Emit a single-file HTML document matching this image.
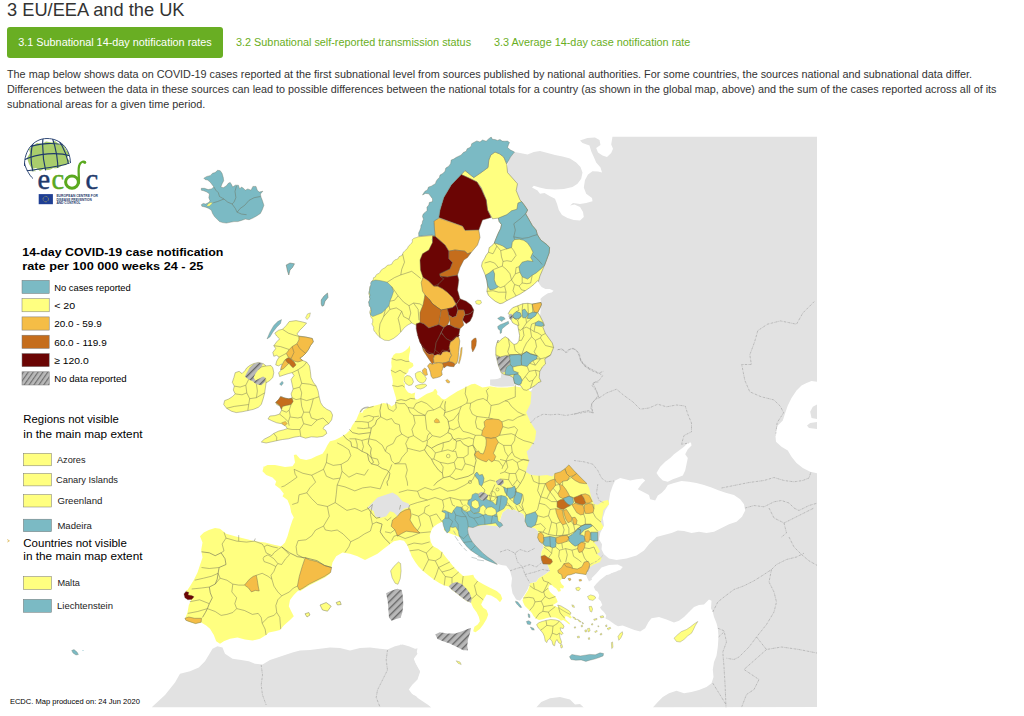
<!DOCTYPE html>
<html><head><meta charset="utf-8">
<style>
html,body{margin:0;padding:0;background:#fff;}
body{width:1024px;height:716px;overflow:hidden;position:relative;font-family:"Liberation Sans",sans-serif;color:#333;}
h2{position:absolute;left:7px;top:-1px;margin:0;font-size:18.25px;font-weight:normal;line-height:22px;color:#333;white-space:nowrap;}
.tab{position:absolute;top:27px;height:30.5px;line-height:31px;font-size:10.85px;white-space:nowrap;color:#69ae23;}
.tab.on{left:7px;width:216px;background:#69ae23;color:#fff;border-radius:3px;text-align:center;}
p{position:absolute;left:7px;top:67px;margin:0;font-size:10.82px;line-height:15px;color:#333;white-space:nowrap;}
svg{position:absolute;left:0;top:0;}
.lg{font-family:"Liberation Sans",sans-serif;}
</style></head><body>
<h2>3 EU/EEA and the UK</h2>
<div class="tab on">3.1 Subnational 14-day notification rates</div>
<div class="tab" style="left:236px">3.2 Subnational self-reported transmission status</div>
<div class="tab" style="left:494px">3.3 Average 14-day case notification rate</div>
<p>The map below shows data on COVID-19 cases reported at the first subnational level from sources published by national authorities. For some countries, the sources national and subnational data differ.<br>Differences between the data in these sources can lead to possible differences between the national totals for a country (as shown in the global map, above) and the sum of the cases reported across all of its<br>subnational areas for a given time period.</p>
<svg width="1024" height="716" viewBox="0 0 1024 716">
<!--MAP-->
<defs><pattern id="hatch" width="5" height="5" patternUnits="userSpaceOnUse" patternTransform="rotate(45)"><rect width="5" height="5" fill="#b8b8b8"/><rect width="1.35" height="5" fill="#666"/></pattern>
<clipPath id="mapclip"><rect x="0" y="136.5" width="817" height="571"/></clipPath></defs>
<g clip-path="url(#mapclip)" stroke-linejoin="round">
<g id="grey">
<polygon points="514.5,152 520,153 527.5,154.5 533.8,152 540,151 547.5,153 555,155 562.5,156.5 570,158.5 576.2,162.5 580.5,167 582.5,172.5 581.2,178.8 577.5,183.8 572.5,187 563.8,189 555,189.5 546.2,189 539.5,187.5 533.8,185.8 532,187.5 537.5,190.5 540,193.8 544.5,193 550,196.2 555,198.8 557,203.8 558.8,210 562,215 567.5,218 573.8,220 580,220.5 583.8,217 583,212 580,207 574.5,204.5 570,205.5 573,203 580,204 586.2,203 592.5,201.2 592,198 586.2,193.8 583.8,187.5 585,180 588,174.5 592.5,171.2 598,171.5 602,172.5 600.5,167.5 596.2,162.5 593.8,157 591.2,151.2 589.5,145.5 582.5,143 580,140.5 587.5,138 595,137.5 599.5,140 600.5,145 596.2,148 598,152.5 602.5,155.5 607,157 611.2,153 613,148.8 611.2,144.5 612,139.5 612.5,136.5 817,136.5 817,707 652.8,707.5 657.8,702 662.8,697 669,693.2 676.5,690.8 684,693.2 691.5,692 699,690 706.5,687 711.5,683.2 713.5,677 712.8,669.5 714,662 716.5,655.8 717.8,647 718.5,637 717.8,628.2 716.5,623.2 714,617 712.8,612 711,608.2 711.5,600.8 709,599.5 704,604.5 699,605 694,607 689,612 684,617 679,620.8 674,622.5 666.5,619.5 659,617 651.5,618.2 648.5,622 645.2,628.2 640.2,631.5 634.4,630.1 630.5,628.6 626.6,627 622.7,625.4 618,626.2 614.9,624.6 611.7,622.3 608.6,619.9 605.5,618.4 606.2,615.3 603.9,612.1 601.5,609.8 600,607.4 602.3,605.1 600.8,601.2 598.4,598.8 599.2,594.9 597.6,591.8 595.3,590.2 593.7,587.1 596.1,584 600,580 603.9,576.9 607,574.6 611.7,573 616.4,571.4 619.5,569.1 618,566 613.3,565.2 607.8,566.7 603.9,569.1 599.2,572.2 594.5,576.9 591.4,580 589,581.6 587.5,578.5 585.9,574.6 585,560 570,540 555,530 530,525 520,500 512,470 512,440 518,400 532,390 538,350 541,303 541,302.5 540.4,298.9 542.3,297 544.8,295.2 547.9,293.3 551.7,292.6 553.6,290.8 549.8,288.9 545.4,288.9 541.6,287 539.7,284.5 538.5,282.6 520,240 505,200 506,176 509,158" fill="#e2e2e2"/>
<polygon points="467.5,527.5 475,526.2 485,525 497.5,526.2 500,520 502.5,512.5 507.5,508.8 512.5,510 514.1,509.5 518.8,511.8 523.5,514.2 525,518.9 525.8,524.3 531.3,527.5 535.2,528.2 538.3,531.4 537.6,537.6 540.7,542.3 543,543.9 543.8,547 541.5,551.7 541,556.4 542.5,562 547.5,564.5 550,570.8 545,574.5 538.8,578.2 536.2,582 530,583.2 527.5,589.5 523.8,595.8 520,600.8 516.2,599.5 512.5,593.2 511.2,585.8 512,578.2 510,570.8 506.2,565.8 501.2,565 495,563 487.5,558 481.2,552.5 475,545.5 471.2,539.5 475,552.5 467.5,540 466.2,532.5" fill="#e2e2e2"/>
<polygon points="152,707 165,695 175,682.5 180,673.8 190,671.2 198.8,667.5 205,661.2 208.8,655 212.5,648.8 217.5,646.2 222.5,647.5 225,653.8 232.5,658.8 241.2,660 248.8,661.2 255,663.8 262.5,664.5 270,660 277.5,657.5 285,655 292.5,652.5 300,650.5 310,650 320,648.8 330,647.5 340,648 350,650.5 360,648 370,647.5 380,648.8 387.5,649.5 395,646.2 402.5,644.5 408.8,646.2 415,648.8 417.5,653.8 413.8,658.8 416.2,665 420,671.2 417.5,677.5 412.5,682.5 407.5,688.8 411.2,693.8 416.2,696.2 420,701.2 427.5,705 431.2,707.5 152,707.5" fill="#e2e2e2"/>
<polygon points="400,644.5 406.2,647 412.5,649.5 417.5,648.2 416.2,654.5 412.5,659.5 416.2,664.5 420,672 417.5,679.5 412.5,684.5 408.8,689.5 412.5,694.5 420,699.5 427.5,704.5 431.2,707.5 400,707.5" fill="#e2e2e2"/>
<polygon points="536.2,707.5 541.2,702 550,698.2 560,697 570,699.5 575,704.5 580,704 583.8,707.5" fill="#e2e2e2"/>
<polygon points="490.1,379.6 495.2,379.2 500.8,377.7 501.4,373 504.6,374.6 509,375.2 513.4,377.7 514.7,383.4 514,385.9 507.7,386.5 501.4,386.8 495.2,386.5 490.1,385.3" fill="#e2e2e2"/>
</g>
<g id="sea">
<polygon points="609,500.5 610.2,493 612.8,485.5 615.2,480.5 620.2,478 625.2,479.2 630.2,480.5 636.5,479.2 642.8,478.5 645.2,480.5 641.5,484.2 637.8,489.2 642.8,491.8 649,495 650.2,499.2 655.2,500.5 657.8,495.5 661.5,493 665.2,489.2 667.8,485 674,483 681.5,481 689,481.8 696.5,483 704,485 711.5,487.5 719,490.5 726.5,493 734,495 740.2,499.2 744,504.2 745.2,510.5 742,516.8 736.5,521.8 729,524.2 721.5,528 714,531.8 706.5,533 699,531.8 691.5,533 684,531 677.8,530.5 671.5,533 664,535 656.5,537 654.5,539 649,544.2 644,550.5 636.5,555.5 626.5,558.5 616.5,560 609,558.5 604,554.2 601.5,549.2 602,544.2 599,539.2 600.2,533 604,525.5 602.8,518 605.2,510.5 609,504.2" fill="#ffffff"/>
<polygon points="656.5,473 660.2,466.8 665.2,461.8 670.2,458 674,454.2 679,450.5 684,446.8 687.8,443 691,442.5 691.5,445.5 687.8,449.2 685.2,454.2 687.8,458 686.5,464.2 685.2,470.5 682.8,475.5 677.8,477.5 672.8,479.2 667.8,481.8 662.8,480.5 659,476.8" fill="#ffffff"/>
<polygon points="817.8,381.8 811.5,381 806.5,383 801.5,385.5 796.5,390.5 791.5,398 787.8,405.5 785.2,413 782.8,420.5 777.8,425.5 775.2,433 776,441.8 781.5,446.8 787.8,450.5 791.5,456.8 796.5,463 802.8,468 810.2,471.8 817.8,473.5" fill="#ffffff"/>
<polygon points="817.8,404.2 812.8,406.8 810.2,411.8 811.5,418 817.8,419.2" fill="#e2e2e2"/>
<polygon points="817.8,421.8 810.2,423 807,425.5 809,428 817.8,429.2" fill="#e2e2e2"/>
<polygon points="591.5,578.2 596.5,573.2 601.5,567.5 609,565 617.8,564.5 622.8,567 620.2,570 614,571.5 609,574.5 602.8,575.8 596.5,578.2 592.8,580.8" fill="#ffffff"/>
<polygon points="497,373.3 500.8,373 500.2,377.7 495.8,379.2" fill="#ffffff"/>
</g>
<g id="base">
<polygon points="461.2,174.5 465,170.5 473.8,177.5 481.2,172.5 488,167.5 488.8,160 490.8,155 495,152 499.5,153.8 503.8,157 506.8,164.5 507.5,172.5 517.5,183.8 516.2,190.5 520,200 521.5,201.5 524.5,205.4 527.6,210 525.6,213.8 529.2,220 532.2,225.4 536.1,230 537.3,234.6 540.7,240 546.8,244.6 549.6,247.6 549.1,253 546.8,259.2 544.5,265.3 542.2,270.7 539.9,276.1 538.4,281.4 537.6,280.7 533.8,284.5 529.9,287.6 525.3,290.7 520.7,293.7 516.1,296 511.5,298.3 506.9,300.6 503,303 500,303.7 495.4,301.4 491.5,298.3 488.4,295.3 486.9,291.4 487.7,286 486.9,280.7 485.4,275.3 483.1,269.9 481.5,266.1 482.3,262.2 484.6,258.4 486.1,255.3 488.4,252.2 489.2,247.6 491.5,246.1 494.3,243 496.1,238.4 498.4,233 500.7,228.4 501.5,224.6 499.2,221.5 498.4,218.1 492.5,218.8 487.5,210 486.2,200 481.2,187.5 477,182 468.8,178" fill="#ffff80" stroke="#6b6b55" stroke-width="0.45"/>
<polygon points="475.4,301.4 477.7,300.2 480.8,300.6 481.5,303 479.2,304.5 476.1,303.7" fill="#ffff80" stroke="#6b6b55" stroke-width="0.3"/>
<polygon points="289.2,321.6 296,320.6 302.7,322 306.6,323.1 303.7,326.4 299.8,330.2 296.9,334.1 298.9,336 305.6,337 312.3,338.5 313.3,341.8 310.4,345.7 308.5,349.5 305.6,353.4 302.7,356.3 299.8,358.2 302.7,360.5 306.6,362 309.5,365.9 310.4,371.7 311,377.5 313.3,382.3 316.2,386.1 318.1,391 319.1,396.7 320.6,402.5 323,406.4 326.8,409.3 330.7,411.2 332.6,415.1 331.6,419.9 328.7,423.7 324.9,425.7 323,428.6 325.8,430.5 326.8,433.4 323,436.3 317.2,437.2 311.4,436.8 305.6,438.2 299.8,436.3 294,437.2 288.3,438.8 282.5,439.5 276.7,440.7 270.9,442 266.1,443 261.3,442 264.2,439.2 269.9,436.3 273.8,433.4 278.6,431.1 283.4,429.9 287.3,428.6 285.4,425.7 281.5,423.7 276.7,422.8 271.9,420.8 268,418.9 269.9,416 274.8,415.6 279.6,414.1 281.5,410.2 280.5,406.4 276.7,404.5 275.7,402.5 278.6,399.6 281.5,396.7 285.4,398.3 289.2,399.1 292.1,397.7 291.1,393.9 293.1,389 292.1,384.2 291.1,379.4 294,375.5 292.1,372.7 288.3,373.6 283.4,375.2 279.6,376.5 278.6,372.7 281.5,369.8 283.4,366.9 281.5,364 278.6,365.9 275.7,364.9 276.7,361.1 279,357.2 276.7,355.3 273.8,356.3 272.8,352.4 275.7,348.6 273.8,345.7 276.7,341.8 279.6,338.9 276.7,336 274.8,333.1 278.6,330.2 282.5,329.3 286.3,325.4" fill="#ffff80" stroke="#6b6b55" stroke-width="0.4"/>
<polygon points="305.6,317.7 307.5,313.9 310.4,312.9 309.5,316.7 307.1,319.6" fill="#ffff80" stroke="#6b6b55" stroke-width="0.3"/>
<polygon points="235.2,372.7 239.1,371.3 242,373.6 244.9,370.7 246.8,367.8 249.7,365.5 253.6,363.6 258.4,362.4 263.2,363.6 266.1,365.9 270.9,365.5 272.8,367.8 273.8,372.7 272.8,377.5 269.9,380.4 266.1,382.9 265.5,387.1 264.7,392.9 263.2,398.7 261.3,404.5 258.4,407.3 253.6,409.3 247.8,410.6 242,411.8 236.2,412.6 231.4,411.2 226.6,408.3 223.7,404.5 224.6,400.6 228.5,399.1 232.3,396.7 235.2,393.9 233.3,390 234.3,386.1 232.3,382.3 233.9,377.5" fill="#ffff80" stroke="#6b6b55" stroke-width="0.4"/>
<polygon points="418.1,236.8 416.6,237.5 415,237.9 413.5,238.6 412.2,239.8 412.4,241.6 411.7,243.1 410.5,244.3 409.2,245.4 408.1,246.8 407.6,248.3 406.3,249.2 405.4,250.4 404.3,251.5 403.1,252.5 402.6,254 401.9,255.5 400.4,256.1 399,256.7 398.2,258.6 396.3,259.5 394.8,259.9 393.7,261 392.7,262.2 391.9,264.1 389.9,264.9 388,265.1 386.5,266 385.4,267.6 383.8,268.3 382.3,269.3 380.9,270.4 380.1,272 379.1,273.4 377.2,274 376,275.2 375.4,277 373.6,277.6 373.2,279.7 371.8,281.2 371.6,283.2 371.4,285.1 370,286.7 369.7,288.5 369.5,290.3 369.1,292.1 368.7,293.8 369.5,295.3 369.5,296.9 370,298.5 369.7,300.3 369.1,302.1 369.1,303.9 369.7,305.7 370.7,307.4 370.9,309.4 369.9,311.1 369.7,312.9 370.5,314.8 370.7,316.6 371.6,318 372.7,319.4 372.7,320.9 372.6,322.5 371.8,323.9 372.8,325.6 373.7,327.3 373.6,329.3 374.1,331.1 375.6,332.3 376.3,333.9 380,337.5 384.5,340.2 389,340.6 393.6,338.4 397.2,335.7 400.8,332.1 404.5,327.5 408.1,324.8 411.7,323 415.4,324.8 419,326.6 420.8,320.3 423,313.9 424.8,305.7 425.7,300.3 424.8,294.9 423.9,287.6 423,278.5 424.8,273.1 422.1,265.8 423,257.6 425.7,252.2 431.1,250.9 433.9,244.9 432.1,239.5 434.8,235.3" fill="#ffff80" stroke="#6b6b55" stroke-width="0.35"/>
<polygon points="417.6,335 459.8,335 458.6,336.8 456.3,337.3 453.4,340.3 450.4,342 449.2,346.7 450.4,352.6 446.9,351.4 442.8,352 441,355 437.5,354.4 434.6,355.5 432.2,353.8 429.3,354.4 426.4,352.6 424,349.1 422.3,347.3 419.9,342" fill="#6b0504"/>
<polygon points="404.6,377.3 407,375.5 409.9,376.1 412.3,378.4 413.5,381.9 411.7,384.9 408.8,385.5 405.8,383.7 404.1,380.8" fill="#ffff80" stroke="#6b6b55" stroke-width="0.35"/>
<polygon points="415.2,373.7 417.6,372 420.5,371.4 422.3,373.1 424.6,375.5 426.4,378.4 425.2,381.4 422.8,383.1 419.9,382.5 417.6,380.8 415.8,377.8" fill="#ffff80" stroke="#6b6b55" stroke-width="0.35"/>
<polygon points="415.2,386.1 418.1,384.9 421.7,384.3 425.2,384.1 426.9,385.5 424,387.8 420.5,389 417,388.4" fill="#ffff80" stroke="#6b6b55" stroke-width="0.35"/>
<polygon points="431.2,261.2 446.2,260 453.8,280 456.2,301.2 447.5,311.2 431.2,311.2 428,292.5" fill="#6b0504"/>
<polygon points="409.9,345.6 408.2,347.9 405.2,350.8 402.3,352.6 399.4,353.2 395.8,353.2 393.5,355 391.7,358.5 391.2,362.6 391.7,366.7 390.8,370.2 391.2,374.3 392.3,377.8 392.9,381.9 392.3,385.5 393.5,389.6 394.7,393.7 395.8,397.2 396.4,400.7 395.3,403.7 392.9,405.4 391.2,406.6 390,404.8 387,403.7 383.5,403.1 380,404.2 372.5,406.2 366.2,407.5 361.2,410 358.8,413.8 356.2,420 352.5,425 350,430 346.2,433.8 340,437.5 335,440 330,441.2 327.5,445 325,450 322.5,453.8 316.2,456.2 311.2,458.8 306.2,460 300,458.8 296.2,454.5 293.8,455 295,462.5 292.5,466.2 285,467 275,465 267.5,465 262.5,467.5 263.8,466.2 262.5,471.2 266.2,475 272.5,477.5 276.2,481.2 275,485 280,488.8 283.8,493.8 282.5,496.2 287.5,500 290,506.2 291.2,512.5 293.8,517.5 292.5,520 290,527.5 287.5,536.2 285,542.5 281.2,546.2 275,545 265,542.5 255,541.2 245,538.8 235,536.2 226.2,533.8 220,528.8 215,528 208.8,530 203.8,532.5 200,536.2 202.5,542.5 201.2,550 202.5,557.5 200,565 197.5,572.5 193.8,580 190,586.2 187.5,590 186.2,590 187.5,596.2 191.2,600 188.8,605 187.5,612.5 185,618.8 187.5,621.2 195,623.8 201.2,622.5 206.2,625.5 210,628.8 213.8,635 216.2,641.2 220,643.8 223.8,641.2 230,638.8 237.5,637.5 245,639.5 252.5,640.5 260,638.8 266.2,635 268.8,632.5 275,631.2 280,630 283.8,625.5 290,620 293.8,616.2 291.2,611.2 288.8,606.2 290,600 293.8,595 297.5,591.2 300,590 300,591.2 303.8,588.8 310,585 317.5,581.2 325,577.5 330,573.8 331.2,568.8 332.5,562.5 336.2,556.2 342.5,552.5 350,553.8 357.5,556.2 365,560 370,557.5 377.5,553.8 383.8,548.8 388.8,545 393.8,541.2 400,540 404,540.7 407.3,545.2 409.6,550.8 411.8,556.4 415.2,562 418.5,566.4 423,570.9 428.6,575.4 434.1,579.8 439.7,583.2 444.2,585.4 448.7,586.5 452,589.9 456.5,593.2 462.1,597.7 466.5,601.1 471,602.8 473.2,607.8 476.6,612.2 478.8,616.7 479.9,621.2 477.7,624.5 474.4,626.7 473.2,631.2 475.5,632.3 479.9,629 483.3,624.5 486.6,618.9 488.2,614.5 486.6,610 483.3,607.8 481.1,604.4 483.3,599.9 486.6,594.4 491.1,595.5 496.7,598.8 500,602.2 502.3,598.8 500.7,594.4 496.7,591 490,587.7 483.3,584.3 477.7,581 474.4,577.6 473.2,574.7 468.8,575.4 463.2,576 458.7,572 454.2,567.5 449.8,562 445.3,556.4 442,551.9 437.5,548.6 433,546.3 430.8,541.9 429.7,536.3 430.8,531.8 433,527.3 437.5,524 442,521.8 441.2,521.2 445,525 443.8,530 447.5,532.5 467.5,540 466.2,532.5 467.5,527.5 475,526.2 485,525 497.5,526.2 500,520 502.5,512.5 507.5,508.8 512.5,510 514.1,509.5 518.8,511.8 523.5,514.2 525,518.9 525.8,524.3 531.3,527.5 535.2,528.2 538.3,531.4 537.6,537.6 540.7,542.3 543,543.9 543.8,547 541.5,551.7 541,556.4 542.5,562 547.5,564.5 550,570.8 545,574.5 538.8,578.2 536.2,582 530,583.2 529.6,585.5 528,590.2 524.9,594.9 523.3,598 522.5,600.4 523.3,602.7 524.9,605.9 527.2,608.2 529.6,610.6 531.9,612.9 533.5,616 535.8,618.4 539,619.9 542.9,619.2 546.8,617.9 550.7,617.3 555.4,617.6 559.3,619.2 560.9,620.7 563.2,619.9 565.6,621.5 568.7,623.9 570.3,624.6 569.5,623.1 567.1,620.7 564.8,618.4 565.6,616 567.9,616.8 570.3,618.4 571.8,617.6 570.3,615.3 568.7,612.1 564.8,610.6 561.6,609 558.5,607.4 555.4,606.6 553,605.1 555.4,603.5 557.7,601.9 556.9,599.6 555.4,596.5 552.3,594.1 549.9,591.8 548.3,588.6 549.1,585.5 551.5,584.7 553.8,587.1 556.2,588.6 558.5,591.8 560.9,591 560.1,587.9 563.2,588.6 564,586.3 561.6,584 560.1,580.8 562.4,578.5 564.8,578.5 567.1,575.3 571,574.6 575.7,573 581.2,573.8 585.9,574.6 586.7,572.2 589,568.3 589.8,564.4 590,567 593.8,564.5 600,562 602.5,555.8 600.2,562.1 601.7,558 597,554.1 600.2,551.7 597.8,547 593.9,542.3 597,540.8 597.8,535.3 597.8,531.4 601.7,529.8 603.3,526.7 600.9,522 602.5,515.7 603.3,510.3 606.4,507.1 609.2,504 608,500.1 603.3,500.9 597.8,504.8 593.9,504 592.3,500.1 590.8,495.4 589.2,488.3 586.9,483.6 582.9,479.7 578.2,475 573.6,470.3 568.9,464.9 564.9,468.8 560.3,471.9 554.8,473.5 552.4,476.6 546.9,475 539.1,475.8 531.3,475 525.8,471.9 529,461 526.6,451.6 529.5,448.8 535,440 536.2,431.2 530,421.2 526.2,412.5 530.5,403.8 531.5,392.5 527,388.5 515,386.2 507.5,387.5 497.5,387.5 490,386.2 482.5,387.5 475,383.8 471.5,384.3 466.9,386.6 462.2,389 457.5,391.3 452.8,394.3 449.2,396.6 445.7,399 444,399.6 441.6,398.4 439.3,396 436.9,394.3 437.5,391.9 435.8,389 434,389.6 433.4,391.3 430.5,392.5 426.9,393.7 424,395.4 420.5,397.8 417.6,399.6 415.2,399 414.6,396 415.2,392.5 411.7,393.7 408.2,392.5 406.4,390.2 404.6,387.2 405.2,384.3 403.5,381.9 404.1,379 404.6,375.5 406.4,373.7 408.2,372 408.8,369 411.1,367.9 413.5,366.1 412.9,363.2 409.3,361.4 408.8,358.5 409.3,354.4 410.3,350.3" fill="#ffff80"/>
<polygon points="510.2,310.3 512.7,307.7 517.7,305.8 522.8,303.7 527.8,303.3 532.2,304 536.6,303.3 541,302.5 541.4,304.6 540.1,307.7 538.5,310.9 537.9,312.8 539.7,315.3 541.6,319.1 543.5,322.8 544.2,325.3 542.9,327.2 544.2,330.4 545.4,333.5 548.6,337.9 552.3,343 553.6,347.5 550.5,355.1 544.8,358.9 545.5,363.9 542.3,367 539.8,371.4 539.2,377.7 541.1,381.5 537.9,382.8 535.4,385.3 530.4,388.4 526.6,390.3 523.5,389.7 520.3,385.3 514.7,383.4 513.4,377.7 509,375.2 504.6,374.6 501.4,373 500.2,370.2 498.3,365.2 497,360.1 495.8,354.8 495.8,347.5 497,342.5 498.3,340 497.6,343 500.8,339.8 503.3,337.9 505.2,336.7 508.3,338.6 510.8,341.7 514,344.5 517.1,343.6 519,340.4 519.6,335.4 518.4,329.1 517.7,325.3 515.2,324.3 512.7,322.8 511.4,320.3 509.6,318.4 510.2,315.9 508.3,313.4" fill="#ffff80" stroke="#6b6b55" stroke-width="0.45"/>
<polygon points="320,605 326.2,602.5 331.2,606.2 327.5,611.2 322.5,610" fill="#ffff80" stroke="#6b6b55" stroke-width="0.45"/>
<polygon points="336.2,602.5 340,601.2 341.2,604.5 337.5,605" fill="#ffff80" stroke="#6b6b55" stroke-width="0.45"/>
<polygon points="305,613.8 308.8,612.5 310,615 307,617" fill="#ffff80" stroke="#6b6b55" stroke-width="0.45"/>
<polygon points="390.6,570.9 393.9,566.4 398.4,562 400.6,563.5 401.1,570.9 400.2,578.7 398,584.3 395.1,583.2 392.1,577.6" fill="#ffff80" stroke="#6b6b55" stroke-width="0.35"/>
<polygon points="456.2,660.8 460,662 461.2,664.5 458,663.2" fill="#ffff80" stroke="#6b6b55" stroke-width="0.3"/>
<polygon points="536.6,624.6 539,622.6 542.1,621.5 546,620.4 550.7,619.5 555.4,619.9 559.3,621 562.4,623.9 564,626.2 563.2,628.6 560.1,627.8 560.9,630.9 563.2,633.2 561.6,634.8 559.3,633.2 560.1,637.9 561.6,641.9 560.9,644.2 558.5,642.6 556.9,639.5 555.4,641.9 554.6,645.8 553,645 551.9,641.1 549.9,638.7 547.6,640.3 546.8,642.6 545.2,641.1 544.4,636.4 542.9,633.2 540.5,630.1 538.2,627.8" fill="#ffff80" stroke="#6b6b55" stroke-width="0.35"/>
<polygon points="557.7,605.1 560.9,605.9 564.8,608.2 568.7,610.6 571,612.9 570.3,614.5 567.1,612.9 563.2,610.6 559.3,608.2" fill="#ffff80" stroke="#6b6b55" stroke-width="0.35"/>
<polygon points="575.7,587.9 578.9,587.1 580.4,588.6 578.9,590.7 576.5,590.2" fill="#ffff80" stroke="#6b6b55" stroke-width="0.3"/>
<polygon points="587.5,596.5 590.6,594.9 594.5,596 595.8,598 592.9,600.4 589,599.6" fill="#ffff80" stroke="#6b6b55" stroke-width="0.3"/>
<polygon points="589,606.6 591.4,606.3 592.6,609 591.7,612.1 590.1,611.3" fill="#ffff80" stroke="#6b6b55" stroke-width="0.3"/>
<polygon points="600,616.3 603.1,615.7 603.9,617.3 600.8,617.9" fill="#ffff80" stroke="#6b6b55" stroke-width="0.3"/>
<polygon points="593.7,619.2 596.9,618.4 597,619.5 594.2,620.4" fill="#ffff80" stroke="#6b6b55" stroke-width="0.3"/>
<polygon points="571.8,604.8 573.8,605.4 574.5,607.4 572.6,607" fill="#ffff80" stroke="#6b6b55" stroke-width="0.3"/>
<polygon points="572.6,616.8 574.9,617.6 576.5,619.5 574.9,619.5" fill="#ffff80" stroke="#6b6b55" stroke-width="0.3"/>
<polygon points="577.3,619.2 579.6,620.4 581.2,622 579.6,622" fill="#ffff80" stroke="#6b6b55" stroke-width="0.3"/>
<polygon points="587.5,628.6 589.5,628.2 590.1,630.9 588.2,632" fill="#ffff80" stroke="#6b6b55" stroke-width="0.3"/>
<polygon points="584.8,630.1 586.4,629.8 586.7,631.7 585.1,632" fill="#ffff80" stroke="#6b6b55" stroke-width="0.3"/>
<polygon points="577.3,636.4 579.2,636.1 579.5,637.6 577.6,637.9" fill="#ffff80" stroke="#6b6b55" stroke-width="0.3"/>
<polygon points="588.2,637.9 589.5,637.6 589.8,639.2 588.6,639.5" fill="#ffff80" stroke="#6b6b55" stroke-width="0.3"/>
<polygon points="607,628.6 610.2,627.3 610.9,628.2 608.3,629.8" fill="#ffff80" stroke="#6b6b55" stroke-width="0.3"/>
<polygon points="618,636.4 620.3,633.2 622.4,631.7 622.7,634 620.8,637.9 618.8,640.3" fill="#ffff80" stroke="#6b6b55" stroke-width="0.3"/>
<polygon points="611.4,642.6 612.5,641.9 613,647.3 611.7,648.6" fill="#ffff80" stroke="#6b6b55" stroke-width="0.3"/>
<polygon points="560.4,645 562,644.5 562.6,647.3 561,648.1" fill="#ffff80" stroke="#6b6b55" stroke-width="0.3"/>
<polygon points="581.2,625.4 582.3,625.1 582.6,626.7 581.4,627" fill="#ffff80" stroke="#6b6b55" stroke-width="0.3"/>
<polygon points="594.5,631.7 596.9,630.4 597.3,631.4 595.3,632.6" fill="#ffff80" stroke="#6b6b55" stroke-width="0.3"/>
<polygon points="600,634 601.5,633.2 602,634.5 600.5,635.1" fill="#ffff80" stroke="#6b6b55" stroke-width="0.3"/>
<polygon points="605.5,625.4 606.7,624.8 607,626.4 605.8,626.7" fill="#ffff80" stroke="#6b6b55" stroke-width="0.3"/>
<polygon points="582,622.3 583.6,623.2 582.9,624.2" fill="#ffff80" stroke="#6b6b55" stroke-width="0.3"/>
<polygon points="591.4,623.9 592.6,623.5 592.9,624.8 591.7,625.1" fill="#ffff80" stroke="#6b6b55" stroke-width="0.3"/>
<polygon points="574.2,627 575.4,626.7 575.7,627.9 574.5,628.2" fill="#ffff80" stroke="#6b6b55" stroke-width="0.3"/>
<polygon points="597.6,626.2 598.6,625.7 598.9,627" fill="#ffff80" stroke="#6b6b55" stroke-width="0.3"/>
<polygon points="674,638.2 677.8,634.5 681.5,631.5 686.5,629.5 690.2,627 694,624 697.8,621.5 695.2,625.8 693.5,629.5 691.5,633.2 687.8,635.8 684,639.5 680.2,642 676.5,641.5" fill="#ffff80" stroke="#6b6b55" stroke-width="0.3"/>
</g>
<g id="fill">
<polygon points="367.5,507.5 372.5,502.5 377.5,497.5 385,495 392.5,492.5 397.5,495.5 402.5,501.2 408.8,503.8 410,507 403.8,508.8 400,512.5 397.5,516.2 393.8,512.5 390,511.2 386.2,516.2 380,518 375,516.2 373.8,511.2" fill="#e2e2e2"/>
<polygon points="461.2,174.5 468.8,178 477,182 481.2,188.8 486.2,200 487.5,210 491.2,217.5 482.5,220 478.8,230 465,230.5 462.5,226.2 438.8,217.5 440,210 443.8,197.5 451.2,185" fill="#6b0504" stroke="#6b6b55" stroke-width="0.45"/>
<polygon points="438.8,218 462.5,226.2 465,230.5 478.8,230 480,237.5 477.5,245 471.2,252.5 467.5,253.8 465,251.2 455,250 448.8,251.2 445,245 435,236.2 433.8,221.2" fill="#f5bd46" stroke="#6b6b55" stroke-width="0.45"/>
<polygon points="498.4,218.1 506.9,214.6 511.5,210.8 516.9,209.2 517.9,203.1 521.5,201.5 524.5,205.4 527.6,210 525.6,213.8 529.2,220 532.2,225.4 536.1,230 537.3,234.6 540.7,240 546.8,244.6 549.6,247.6 549.1,253 546.8,259.2 544.5,265.3 541.5,268.4 536.1,273 532.2,275.3 527.6,279.1 522.2,276.8 519.9,272.2 518.9,266.8 522.2,262.2 527.6,260.7 533,261.5 530.7,257.6 533,252.2 530.7,247.6 527.6,243 523.8,240.3 519.2,239.2 514.6,239.6 512.3,242.3 511.5,247.6 506.9,248.9 503,246.1 499.2,244.6 494.3,243 496.1,238.4 498.4,233 500.7,228.4 501.5,224.6 499.2,221.5" fill="#7bbac4" stroke="#6b6b55" stroke-width="0.45"/>
<polygon points="485.4,275.3 489.2,273 493,269.9 494.6,273.8 494.3,279.9 496.1,284.5 498.4,286.8 494.6,289.1 490,289.9 487.7,286 486.9,280.7" fill="#7bbac4" stroke="#6b6b55" stroke-width="0.45"/>
<polygon points="203.8,178.2 206.9,176.4 210.1,175.7 212.6,173.2 215.1,172.6 217.6,170.3 220.2,170.7 222,173.2 223.3,177.6 223.7,180.8 222,183.9 220.8,187 223.3,187.7 226.4,185.8 228.3,183.3 230.2,182.4 231.5,184.5 232.7,187 235.3,185.2 238.4,185.2 239.7,188.9 241.5,187 243.4,188.3 245.3,190.2 247.8,188.9 251,190.2 252.9,186.4 256,186.4 257.3,190.2 259.2,192.1 262.9,191.2 260.4,194 261,197.1 262.3,200.3 263.9,205.3 262.3,209.7 260.4,213.5 256.6,216 252.9,218.1 249.1,219.7 245.3,219.1 241.5,220.4 237.8,221.6 234,221.6 230.2,222.3 226.4,223.1 222.7,222.6 219.5,221.6 217,219.1 214.5,216.6 212.6,213.5 211.4,210.3 208.8,208.4 205.7,207.2 201.9,206.3 201.3,204.7 203.2,203.4 205.7,204 208.2,202.8 210.1,200.9 208.8,197.7 209.5,194 206.9,192.1 203.8,190.8 201.3,190.2 201.3,188.3 204.4,188.3 208.2,189.6 211.4,188.9 213.9,187 212,184.5 210.1,182 207.6,180.1 205.1,179.5" fill="#7bbac4" stroke="#6b6b55" stroke-width="0.35"/>
<polygon points="206.9,205.3 208.8,203.4 210.7,202.5 212.6,202.8 211.4,204.3 209.5,205.9 207.6,206.3" fill="#ffff80" stroke="#6b6b55" stroke-width="0.25"/>
<polygon points="286.2,265 290,263 294.5,263.8 292.5,267.5 290,270 288.8,275 287.5,271.2" fill="#7bbac4" stroke="#6b6b55" stroke-width="0.45"/>
<polygon points="321.2,300 323.8,296.2 327.5,293 328,297.5 325,301.2 323.8,305.5 322,306.2 321.2,304" fill="#7bbac4" stroke="#6b6b55" stroke-width="0.45"/>
<polygon points="418.8,236.2 418.6,233 420,230 420.8,227.8 420.9,225.5 422.2,223.5 422.5,221.2 423.5,219.2 422.5,216.5 423,214.3 425,212.5 427.1,210.4 426.9,207.2 428.8,205 429.3,202.5 432.5,201.6 432.5,198.8 430.6,196.3 428.8,193.8 425.4,193.4 422.5,195 423.7,193.1 425,191.2 427.4,189.9 428.5,187.1 431.2,186.2 433.2,184.9 435.4,183.7 436.2,181.2 437.6,179.2 439.4,177.4 440,175 442.8,173.5 445,171.2 445.8,168 448.8,166.2 450.7,163.4 451.2,160 453.8,159 456,157.5 461.2,155 463.3,152.5 466.2,151.2 467.1,148.8 469.4,147.7 471.2,146.2 471.6,143.8 473.8,142.5 476.8,140.9 480,142 482.5,140 486.2,141.2 488.6,138.9 491.2,137 492.4,139.3 495,139.5 497.5,140.4 500,139.5 502.2,141.1 505,141.2 507.5,141.1 509.5,142.5 508.4,144.9 507.5,147.5 510.5,150 514.5,152 510.5,157 506.8,163.8 503.8,157 499.5,153.8 495,152 490.8,155 488.8,160 488,167.5 481.2,172.5 473.8,177.5 465,170.5 461.2,174.5 451.2,185 443.8,197.5 440,210 438.8,218 433.8,221.2 435,236.2 432,235" fill="#7bbac4" stroke="#6b6b55" stroke-width="0.35"/>
<polygon points="298.9,336.4 305.6,337 312.3,338.5 313.3,341.8 310.4,345.7 308.5,349.5 305.6,353.4 302.7,356.3 299.8,358.2 302.7,360.5 297.9,362 294,361.1 291.1,358.6 288.3,357.2 286.3,353.4 289.2,349.5 292.1,346.6 296.9,343.7 298.9,339.9" fill="#f5bd46" stroke="#6b6b55" stroke-width="0.45"/>
<polygon points="284.4,360.5 287.3,358.2 291.1,359.2 289.2,363 286.3,365.9 283.4,368.8 280.5,369.8 281.5,365.9" fill="#f5bd46" stroke="#6b6b55" stroke-width="0.45"/>
<polygon points="285.4,359.7 288.3,357.8 291.1,359.2 294,361.7 296,364.9 293.1,367.8 291.1,365.9 289.2,363.6 287.3,362.4" fill="#c56d1c" stroke="#6b6b55" stroke-width="0.45"/>
<polygon points="275.7,402.5 278.6,399.6 280.5,396.4 283.4,397.7 288.3,398.7 292.1,398.3 293.1,401.6 291.1,404.5 286.3,405.4 282.5,406.4 281.5,409.3 279.6,405.4" fill="#c56d1c" stroke="#6b6b55" stroke-width="0.45"/>
<polygon points="281.5,422.8 285.4,421.4 287.3,423.7 284.4,425.7" fill="#f5bd46" stroke="#6b6b55" stroke-width="0.3"/>
<polygon points="279.6,384.2 282.1,381.3 283.4,382.9 281.5,385.6" fill="#7bbac4" stroke="#6b6b55" stroke-width="0.3"/>
<polygon points="267,338.9 269.9,332.2 273.8,325.4 277.7,321.6 281.5,319.6 280.5,323.5 276.7,327.3 272.8,332.2 269.9,337" fill="#7bbac4" stroke="#6b6b55" stroke-width="0.3"/>
<polygon points="244.9,376.5 246.8,372.7 249.7,367.8 253.6,364 258.4,362.4 263.2,363.6 261.3,366.9 258.4,369.8 255.5,373.6 253.6,377.5 255.5,380.4 259.3,378.4 263.2,376.5 265.5,377.9 264.7,382.3 261.3,385.2 256.4,384.2 252.6,381.3 248.7,379.4" fill="url(#hatch)"/>
<polygon points="370.5,314.8 370.6,313 371.1,311.2 370.9,309.4 370.6,307.5 369.1,305.9 369.1,303.9 368.5,302 369.5,300.3 370,298.5 369.3,297 370.1,295.2 369.6,293.7 369.1,292.1 369.6,290.4 369.8,288.5 370,286.7 370.9,285 370.6,282.9 371.8,281.2 375.4,280 380.9,280.7 387.2,282.2 391.8,286.7 393.6,291.2 391.8,296.7 389.9,301.2 389,305.7 385.4,309.4 381.8,313 377.2,314.8 372.7,316.6" fill="#7bbac4" stroke="#6b6b55" stroke-width="0.35"/>
<polygon points="448.8,258.8 448.8,251.2 455,250 465,251.2 467.5,253.8 471.2,252.5 467.5,257.5 463.8,260 460,267.5 457.5,275 447.5,277 440,276.2 439.5,273.8 450,268.8 452.5,262.5 448.8,258.8" fill="#c56d1c" stroke="#6b6b55" stroke-width="0.45"/>
<polygon points="432.5,236.2 435,236.2 445,245 448.8,251.2 448.8,258.8 452.5,262.5 450,268.8 439.5,273.8 440,276.2 443.8,278.8 438.8,283.8 433.8,286.2 428.8,281.2 423,277.5 420.5,270 420,260 422.5,253.8 428.8,250 432.5,242.5" fill="#6b0504" stroke="#6b6b55" stroke-width="0.45"/>
<polygon points="440,276.2 447.5,277 457.5,275 458.8,280 457.5,290 460,298.8 456.2,304.5 452.5,297.5 447.5,292.5 442.5,288.8 437.5,286.2 438.8,283.8 443.8,278.8" fill="#6b0504" stroke="#6b6b55" stroke-width="0.45"/>
<polygon points="423,277.5 428.8,281.2 433.8,286.2 437.5,286.2 442.5,288.8 447.5,292.5 452.5,297.5 456.2,304.5 452.5,307.5 447.5,308.8 441.2,310 437.5,307.5 432.5,303.8 428.8,298.8 425,295 422.5,291.2 421.2,282.5" fill="#f5bd46" stroke="#6b6b55" stroke-width="0.45"/>
<polygon points="425,295 428.8,298.8 432.5,303.8 437.5,307.5 441.2,310 440,317.5 438.8,324.5 433.8,326.2 428.8,328 423.8,323.8 420,322.5 420,312.5 423,305 424.5,297.5" fill="#c56d1c" stroke="#6b6b55" stroke-width="0.45"/>
<polygon points="441.2,310 447.5,308.8 448.8,315 450,320 447.5,325 443.8,327.5 438.8,324.5 440,317.5" fill="#c56d1c" stroke="#6b6b55" stroke-width="0.45"/>
<polygon points="447.5,308.8 452.5,307.5 456.2,304.5 458,310 456.2,316.2 452.5,317.5 448.8,315" fill="#6b0504" stroke="#6b6b55" stroke-width="0.45"/>
<polygon points="456.2,304.5 460,298.8 466.2,301.2 471.2,305 473.8,310 470,313.8 465,315 463.8,310 458,310" fill="#6b0504" stroke="#6b6b55" stroke-width="0.45"/>
<polygon points="465,315 470,313.8 473.8,310 472.5,316.2 470,321.2 466.2,323.8 462.5,320 463.8,316.2" fill="#6b0504" stroke="#6b6b55" stroke-width="0.45"/>
<polygon points="452.5,317.5 456.2,316.2 458,310 463.8,310 465,315 463.8,316.2 462.5,320 463.8,325 460,328.8 455,327.5 450,325 450,320 448.8,315" fill="#c56d1c" stroke="#6b6b55" stroke-width="0.45"/>
<polygon points="416.2,323.8 420,322.5 423.8,323.8 428.8,328 433.8,326.2 438.8,324.5 443.8,327.5 441.2,332.5 438.8,337.5 436.2,342.5 435,350 433.8,353.8 428.8,352.5 423.8,347.5 420,342.5 417.5,335 416.2,328.8" fill="#6b0504" stroke="#6b6b55" stroke-width="0.45"/>
<polygon points="443.8,327.5 447.5,325 450,325 455,327.5 460,328.8 458.8,335 455,337.5 451.2,341.2 446.2,338.8 441.2,332.5" fill="#6b0504" stroke="#6b6b55" stroke-width="0.45"/>
<polygon points="438.8,337.5 441.2,332.5 446.2,338.8 451.2,341.2 450,347.5 447.5,351.2 442.5,350 440,353.8 435,350 436.2,342.5" fill="#6b0504" stroke="#6b6b55" stroke-width="0.45"/>
<polygon points="422.3,347.3 424,349.1 426.4,352.6 429.3,354.4 432.2,353.8 434.6,355.5 433.4,358.5 434,362.6 432.2,364.3 430.5,361.4 428.1,357.9 425.8,354.4 423.4,350.8" fill="#c56d1c" stroke="#6b6b55" stroke-width="0.45"/>
<polygon points="434.6,355.5 437.5,354.4 441,355 442.8,352 446.9,351.4 450.4,352.6 451.6,355.5 449.8,358.5 449.2,361.4 445.7,362.6 442.2,363.2 438.7,362.6 435.2,363.2 434,362.6 433.4,358.5" fill="#f5bd46" stroke="#6b6b55" stroke-width="0.45"/>
<polygon points="442.2,363.2 445.7,362.6 449.2,361.4 453.4,362.6 455.1,364.3 453.9,366.7 450.4,366.5 446.9,365.8 444,367.9 442.8,366.1" fill="#c56d1c" stroke="#6b6b55" stroke-width="0.45"/>
<polygon points="450.4,352.6 449.2,346.7 450.4,342 453.4,340.3 456.3,337.3 458.6,336.8 459.8,340.9 459.2,346.7 458.6,352.6 458.1,358.5 456.9,363.2 455.1,364.3 453.4,362.6 449.2,361.4 449.8,358.5 451.6,355.5" fill="#f5bd46" stroke="#6b6b55" stroke-width="0.45"/>
<polygon points="427.5,366.1 429.9,363.2 432.2,364.3 435.2,363.2 438.7,362.6 442.2,363.2 443.4,365.5 442.8,368.5 441.6,371.4 442.2,374.9 439.9,376.7 436.3,377.8 432.8,378.4 431.1,376.1 430.5,372.6 429.3,369" fill="#f5bd46" stroke="#6b6b55" stroke-width="0.45"/>
<polygon points="461,347.9 462.2,347.3 461.9,352.6 460.8,358.5 459.2,363.8 458.4,363.2 459.6,357.3 460.4,352.6" fill="#f5bd46" stroke="#6b6b55" stroke-width="0.3"/>
<polygon points="471.5,340.9 473.9,338.5 476,337.9 476.5,340.9 476,345.6 474.5,349.1 472.7,352 471.5,347.9" fill="#c56d1c" stroke="#6b6b55" stroke-width="0.3"/>
<polygon points="445.7,380.2 447.5,379.4 449.8,381.4 449.2,383.1 446.9,382.5" fill="#f5bd46" stroke="#6b6b55" stroke-width="0.3"/>
<polygon points="422.3,370.2 424.6,368.1 426.4,369 426.9,372 427.5,374.9 425.2,375.5 422.8,373.1" fill="#f5bd46" stroke="#6b6b55" stroke-width="0.35"/>
<polygon points="532.2,304.2 536.6,303.3 541,302.5 541.4,304.6 540.1,307.7 538.5,310.9 537.2,312.8 534.1,312.1 533.1,308.4" fill="#f5bd46" stroke="#6b6b55" stroke-width="0.45"/>
<polygon points="513.3,314 516.5,311.5 520.3,312.8 521.5,315.9 519,318.4 515.2,319.1 513,317.2" fill="#7bbac4" stroke="#6b6b55" stroke-width="0.45"/>
<polygon points="522.1,310.3 524.7,309 526.5,311.5 528.4,314 525.9,317.8 522.8,317.8 522.1,314" fill="#7bbac4" stroke="#6b6b55" stroke-width="0.45"/>
<polygon points="528.4,314 532.8,312.1 537.2,312.8 535.3,315.9 531.6,318.4 527.2,318.4" fill="#7bbac4" stroke="#6b6b55" stroke-width="0.45"/>
<polygon points="535.3,322.8 538.5,320.9 542.3,322.2 544.2,325.3 541.6,326.4 537.9,326 535.1,325.3" fill="#7bbac4" stroke="#6b6b55" stroke-width="0.45"/>
<polygon points="497.6,318.4 500.8,316.5 503.9,317.2 505.2,319.1 502.6,320.3 502,321.6 500.1,320.3" fill="#7bbac4" stroke="#6b6b55" stroke-width="0.3"/>
<polygon points="497.6,326.6 500.1,324.7 503.3,323.5 506.4,322.2 508.3,321.3 508.9,323.5 506.4,325.3 503.9,327.2 502,329.1 501.4,332.9 500.1,333.5 500.1,330.4 498.2,329.1" fill="#7bbac4" stroke="#6b6b55" stroke-width="0.3"/>
<polygon points="508.3,315.9 510.8,313.4 512.5,314.7 513,317.5 511.4,320.3 509.9,318.4" fill="url(#hatch)"/>
<polygon points="496.4,355.7 500.2,357 505.2,355.7 509,355.7 510.3,361.4 509.6,364.5 506.5,367 505.2,371.4 502.7,373 500.8,371.4 498.9,367 497.4,362" fill="url(#hatch)"/>
<polygon points="509,355.7 510.3,354.8 517.8,354.5 521.6,355.1 521.3,360.8 521.6,365.2 517.8,365.8 512.8,367 510,364.5 510.3,361.4" fill="#7bbac4" stroke="#6b6b55" stroke-width="0.45"/>
<polygon points="521.6,355.1 522.8,353.8 526.6,351.6 530.4,353.8 537.3,355.7 536.7,358.9 532.9,360.8 529.7,363.3 527.2,366.4 524.1,365.8 521.6,365.2 521.3,360.8" fill="#7bbac4" stroke="#6b6b55" stroke-width="0.45"/>
<polygon points="506.5,367 510,364.5 512.8,367 513.4,370.8 518.4,372.7 517.8,374 514,374.6 509,375.2 505.2,374.6 505.2,371.4" fill="#7bbac4" stroke="#6b6b55" stroke-width="0.45"/>
<polygon points="514,374.6 517.8,374 520.3,376.5 522.2,380.3 520.9,384 518.4,385 514.7,383.4 513.4,377.7" fill="#7bbac4" stroke="#6b6b55" stroke-width="0.45"/>
<polygon points="392.5,520 397.5,516.2 400.5,512.5 405,510 410,508.8 411.2,515 410,520 413.8,526.2 417.5,530.5 420,533 412.5,532 406.2,531.2 401.2,533.8 397.5,536.2 395,530 391.2,526.2" fill="#f5bd46" stroke="#6b6b55" stroke-width="0.45"/>
<polygon points="386.1,593.2 390.6,591 397.3,588.8 401.8,589.9 402.9,596.6 403.3,604.4 402.4,612.2 400.6,617.8 396.2,618.9 391.7,620.7 389,617.8 388.4,610 387.7,601.1" fill="url(#hatch)"/>
<polygon points="305.2,557.7 309.1,559.7 316.9,561.6 324.7,565.5 331.6,567.5 330.6,572.4 324.7,576.3 316.9,580.2 309.1,584.1 303.2,588 299.3,590 297.4,586.1 299.3,576.3 302.2,566.5" fill="#f5bd46" stroke="#6b6b55" stroke-width="0.45"/>
<polygon points="244.5,585.1 249.4,579.2 253.3,576.3 256.3,575.3 257.3,580.2 258.2,586.1 259.2,591 255.3,590.4 251.4,591.9 248.5,588" fill="#f5bd46" stroke="#6b6b55" stroke-width="0.45"/>
<polygon points="183.9,593.9 185.9,591.5 188.8,592.3 188.2,594.9 191.7,595.5 194.1,596.8 191.7,599.4 187.8,599.8 184.9,597.8" fill="#6b0504" stroke="#6b6b55" stroke-width="0.3"/>
<polygon points="184.9,618.3 188.8,617 194.7,618.3 201.5,618.3 201.1,622.2 195.6,623.6 189.8,621.7 185.9,620.3" fill="#f5bd46" stroke="#6b6b55" stroke-width="0.45"/>
<polygon points="441.7,511.2 444.9,510.4 448,511.9 451.9,513.5 453.5,510.4 456.6,506.5 461.3,507.3 463.6,510.4 466.8,511.9 470.7,510.4 473.8,513.5 478.5,512.7 483.2,515.1 487.9,513.5 492.6,515.1 497.3,516.6 498.1,521.3 501.2,522.9 502.8,525.3 499.6,527.6 497.3,525.3 495.7,522.9 491,523.7 484.8,524.5 478.5,525.3 473,527.6 468.3,526.8 467.6,529.2 468.3,533.9 469.9,537.8 472.3,541.7 475.4,545.6 479.3,549.5 483.2,553.4 487.9,557.3 492.6,560.5 497.3,564.4 491,562 485.6,559.7 480.1,556.5 475.4,553.4 470.7,550.3 466.8,546.4 463.6,542.5 461.3,539.3 459,535.4 458.2,530.7 455.8,526.8 452.7,527.6 450.3,526.8 449.6,530.7 447.2,533.1 444.9,529.9 443.3,525.3 442.5,520.6 444.9,518.2 445.6,513.5" fill="#7bbac4" stroke="#6b6b55" stroke-width="0.35"/>
<polygon points="471.5,498.6 472.3,494.7 475.4,493.2 478.5,494 479.3,497.9 481.6,500.2 484.8,498.6 488.7,500.2 492.6,501.8 495.7,504.9 496.5,501 497.3,496.3 501.2,495.5 505.1,496.3 507.5,498.6 506.7,504.1 503.6,508.8 498.9,511.2 496.5,512.7 497.3,516.6 492.6,515.1 487.9,513.5 485.6,507.3 483.2,504.9 480.1,507.3 479.3,511.9 473.8,513.5 470.7,510.4 469.9,506.5 467.6,504.1 468.3,500.2" fill="#7bbac4" stroke="#6b6b55" stroke-width="0.35"/>
<polygon points="471.5,501.8 475.4,499.7 478.5,501.8 479.3,506.5 476.9,508.8 473.8,508 471.5,505.7" fill="#ffff80" stroke="#6b6b55" stroke-width="0.35"/>
<polygon points="484.8,510.4 487.9,507.3 491.8,506.9 495.7,509.6 496.5,513.5 492.6,515.9 487.9,515.4 484.8,513.5" fill="#ffff80" stroke="#6b6b55" stroke-width="0.35"/>
<polygon points="462.1,506.5 465.2,504.9 468.3,507.3 466.8,510.4 463.6,510.4" fill="#ffff80" stroke="#6b6b55" stroke-width="0.35"/>
<polygon points="489.5,495.5 491.8,490.8 494.9,492.4 496.5,497.1 493.4,501 490.3,500.2" fill="#ffff80" stroke="#6b6b55" stroke-width="0.35"/>
<polygon points="503.6,486.9 506.7,488.5 511.4,487.7 514.5,486.1 516.1,490 515.3,494.7 512.9,497.9 509.8,498.6 507.5,495.5 505.1,492.4" fill="#7bbac4" stroke="#6b6b55" stroke-width="0.45"/>
<polygon points="515.3,491.6 518.4,492.4 522.3,494 521.5,498.6 520,503.3 516.9,504.9 513.7,502.6 513.7,498.6 515.3,494.7" fill="#7bbac4" stroke="#6b6b55" stroke-width="0.45"/>
<polygon points="478.5,493.2 481.6,491.9 485.6,493.2 488.2,495.5 487.1,498.6 484,500.7 480.9,499.4 478.8,496.3" fill="url(#hatch)"/>
<polygon points="495.7,481.4 499.6,478.8 503.2,479.9 503.9,483 501.2,485.3 497.6,485" fill="url(#hatch)"/>
<polygon points="448.7,586.5 452,583.2 456.5,582.1 462.1,584.3 466.5,588.8 469.9,593.2 471.7,598.8 471,602.8 466.5,601.1 462.1,597.7 456.5,593.2 452,589.9" fill="url(#hatch)"/>
<polygon points="435.3,634.6 439.7,632.3 447.5,633.4 455.4,633.4 462.1,631.2 467.7,629 471,627.9 469.9,633.4 468.1,639 467.2,645.7 468.1,650.2 463.2,650.2 456.5,646.8 449.8,643.5 443.1,641.3 437.5,639" fill="url(#hatch)"/>
<polygon points="557.7,570.6 561.6,567.5 564,563.6 568.7,562.8 571.8,565.2 572.6,568.3 577.3,569.1 582,566.7 584.3,562 588.2,561.3 589.8,564.4 589,568.3 586.7,572.2 585.9,574.6 581.2,573.8 575.7,573 571,574.6 567.1,575.3 564.8,578.5 562.4,578.5 561.6,574.6 558.5,573" fill="#f5bd46" stroke="#6b6b55" stroke-width="0.45"/>
<polygon points="569.5,656.7 571.8,654.4 575.7,655.2 580.4,655.9 585.1,655.2 589.8,654.4 595.3,654.8 600,652.8 603.6,653.6 603.1,655.9 599.2,657.5 594.5,659.1 589.8,660.2 585.9,661.4 581.2,659.9 575.7,660.2 571,659.5" fill="#7bbac4" stroke="#6b6b55" stroke-width="0.3"/>
<polygon points="515.5,601.2 517.8,601.9 520.2,605.1 521.7,607.4 520.2,607.4 517.8,605.1 515.9,602.7" fill="#7bbac4" stroke="#6b6b55" stroke-width="0.3"/>
<polygon points="528,613.7 529.6,614.5 530,617.6 528.5,617.3" fill="#7bbac4" stroke="#6b6b55" stroke-width="0.3"/>
<polygon points="526.4,621.5 528.8,620.7 531.1,622.3 530.3,624.6 527.5,624.2" fill="#7bbac4" stroke="#6b6b55" stroke-width="0.3"/>
<polygon points="530.3,627 533.5,628.2 534.3,630.1 531.9,629.8" fill="#7bbac4" stroke="#6b6b55" stroke-width="0.3"/>
<polygon points="567.9,578.5 570.3,578.2 571,580 569.2,580.8" fill="#f5bd46" stroke="#6b6b55" stroke-width="0.3"/>
<polygon points="578.9,579.7 581.2,579.3 581.7,580.8 579.6,581.3" fill="#f5bd46" stroke="#6b6b55" stroke-width="0.3"/>
<polygon points="564.9,468.8 568.9,464.9 573.6,470.3 576.7,473.5 573.6,475.8 569.6,476.6 566.5,473.5" fill="#f5bd46" stroke="#6b6b55" stroke-width="0.45"/>
<polygon points="554.8,473.5 560.3,471.9 564.9,468.8 566.5,473.5 569.6,476.6 567.3,480.5 562.6,481.3 559.5,484.4 556.3,482.1 554.5,478.2" fill="#f5bd46" stroke="#6b6b55" stroke-width="0.45"/>
<polygon points="571.2,477.4 573.6,475.8 576.7,473.5 582.9,479.7 586.9,483.6 584.5,483.6 579.8,482.9 575.1,480.5" fill="#f5bd46" stroke="#6b6b55" stroke-width="0.45"/>
<polygon points="545.4,483.6 550.1,480.5 554.8,479 555.6,485.2 553.2,488.3 550.1,491.9 547.7,489.1" fill="#f5bd46" stroke="#6b6b55" stroke-width="0.45"/>
<polygon points="559.5,484.4 562.6,485.2 565.7,489.1 568.1,493 569.6,496.2 565.7,497.7 562.6,498.5 559.5,496.9 557.9,493.8 560.3,489.1" fill="#f5bd46" stroke="#6b6b55" stroke-width="0.45"/>
<polygon points="563.4,498.5 568.9,496.2 572.8,497.7 573.6,502.4 571.2,505.1 568.1,504.5 564.9,501.6" fill="#7bbac4" stroke="#6b6b55" stroke-width="0.45"/>
<polygon points="557.1,501.6 560.3,499.8 563.4,499.3 564.9,501.6 568.1,504.5 570.4,505.6 567.3,507.1 563.4,509.5 560.3,508.7 557.1,507.1" fill="#c56d1c" stroke="#6b6b55" stroke-width="0.45"/>
<polygon points="573.6,497.7 577.5,496.2 581.4,494.6 583.7,497.7 585.8,503.2 582.9,504.8 579,504 575.1,502.4" fill="#c56d1c" stroke="#6b6b55" stroke-width="0.45"/>
<polygon points="581.4,494.6 585.3,493.8 589.2,495.4 592.3,501.6 588.4,503.2 585.8,503.2 583.7,497.7" fill="#f5bd46" stroke="#6b6b55" stroke-width="0.45"/>
<polygon points="572,504.8 575.1,503.2 579,504.5 582.9,505.1 584.5,509.5 583.7,514.2 580.6,514.9 576.7,512.6 574.3,508.7" fill="#f5bd46" stroke="#6b6b55" stroke-width="0.45"/>
<polygon points="584.5,504.8 588.4,503.5 592.3,504 593.9,508.7 593.1,512.6 589.2,513.4 585.3,513.4 584.2,509.5" fill="#f5bd46" stroke="#6b6b55" stroke-width="0.45"/>
<polygon points="555.6,508.7 560.3,509.2 562.6,510.3 563.4,515.7 564.9,520.4 566.5,523.6 562.6,524.8 560.3,522 557.9,517.3 556.3,512.6" fill="#f5bd46" stroke="#6b6b55" stroke-width="0.45"/>
<polygon points="563.4,510.3 566.5,509.5 569.6,514.2 572,518.1 571.2,521.2 568.1,522.8 565.7,518.9 564.2,514.2" fill="#f5bd46" stroke="#6b6b55" stroke-width="0.45"/>
<polygon points="572.3,517.6 575.1,517.3 577,520.4 576.4,524.3 573.9,524.8 572.8,521.2" fill="#f5bd46" stroke="#6b6b55" stroke-width="0.45"/>
<polygon points="525.8,514.9 530.5,513.4 535.2,511.8 537.6,515.7 536.8,520.4 535.2,525.1 531.3,527.5 527.4,526.4 525,521.2" fill="#7bbac4" stroke="#6b6b55" stroke-width="0.45"/>
<polygon points="577.5,529 581.4,525.9 585.3,524.3 590.8,524.3 592.3,525.9 588.4,528.2 584.5,529.8 581.4,532.9 579.8,534.5 580.6,529.8" fill="#7bbac4" stroke="#6b6b55" stroke-width="0.45"/>
<polygon points="568.1,536.9 572,534.5 575.1,531.4 577.5,529 580.6,529.8 579.8,534.5 582.9,535.3 585.3,537.6 584.5,541.5 581.4,542.3 579,544.7 575.1,546.2 572,543.9 568.9,540.8" fill="#7bbac4" stroke="#6b6b55" stroke-width="0.45"/>
<polygon points="585.3,531.4 588.4,530.6 590.5,532.9 590,539.2 588.4,542.3 585.8,542 584.5,537.6" fill="#f5bd46" stroke="#6b6b55" stroke-width="0.45"/>
<polygon points="590.8,532.2 597.8,532.2 597.8,540.8 593.9,541.1 590.8,540" fill="#7bbac4" stroke="#6b6b55" stroke-width="0.45"/>
<polygon points="538.3,533.7 541,532.2 543.5,535.3 544.1,540 542.3,543.6 539.4,541.5 537.6,537.6" fill="#f5bd46" stroke="#6b6b55" stroke-width="0.45"/>
<polygon points="543.5,537.6 546.9,536.9 550.1,536.4 555.6,537.6 556.3,542.3 555.6,547 552.4,547.8 549.3,546.2 545.4,546.2 543,543.9 544.1,540" fill="#7bbac4" stroke="#6b6b55" stroke-width="0.45"/>
<polygon points="556.3,537.6 561.8,535.8 567.3,535.3 568.9,538.4 566.5,541.5 561.8,543.1 557.9,543.9 556,541.5" fill="#f5bd46" stroke="#6b6b55" stroke-width="0.45"/>
<polygon points="578.2,544.7 581.4,542.3 585.3,543.1 584.5,547.8 582.2,551.7 579,552.5 577.5,548.6" fill="#f5bd46" stroke="#6b6b55" stroke-width="0.45"/>
<polygon points="541,556.4 544.6,555.2 548.5,558 551.6,559.5 552.4,562.1 550.1,564.2 543,563.9 541.6,560.3" fill="#c56d1c" stroke="#6b6b55" stroke-width="0.45"/>
<polygon points="434.3,420.8 436.2,418.5 438.5,419.7 439.8,422.4 437,422.9 434.6,422.4" fill="#f5bd46" stroke="#6b6b55" stroke-width="0.3"/>
<polygon points="484,421.9 486.3,419.6 492.6,418.8 498.9,419.6 502,421.9 502.8,426.6 501.2,430.6 499.6,435.3 495.7,437.6 491,438.4 485.6,437.3 481.6,435.3 482.4,430.6 484.8,426.6" fill="#f5bd46" stroke="#6b6b55" stroke-width="0.45"/>
<polygon points="485.6,437.6 491,438.4 495.7,437.6 498.5,442.3 496.5,445.4 494.9,450.1 493.4,453.2 495.7,456.4 494.2,460.3 491.8,461.9 488.7,459.5 486.3,461.9 481.6,460.3 476.9,457.9 474.6,454.8 476.2,451.7 478.5,450.9 480.1,453.2 483.2,454 484.8,450.1 486,445.4 486.3,440.7" fill="#f5bd46" stroke="#6b6b55" stroke-width="0.45"/>
<polygon points="474.6,474.4 476.9,472 479.3,475.2 482.4,474.4 484,478.3 483.2,483 481.6,486.1 479.3,484.5 478.5,479.9 476.2,477.5" fill="#7bbac4" stroke="#6b6b55" stroke-width="0.45"/>
<polygon points="360,412.2 361.6,409.1 365,407.4 368.5,406.8 366.9,408.5 363.8,409.9 362.2,412.9" fill="#ffffff"/>
</g>
<g id="line">
<polyline points="261.2,665 262.5,675 261.2,685 262.5,695 266.2,705" fill="none" stroke="#909090" stroke-width="0.5" stroke-dasharray="2.2,0.8,0.6,0.8"/>
<polyline points="387.5,650 386.2,660 387.5,670 382.5,680 377.5,690 376.2,697.5 380,707" fill="none" stroke="#909090" stroke-width="0.5" stroke-dasharray="2.2,0.8,0.6,0.8"/>
<polyline points="525.6,213.8 520.7,218.4 513.8,223.8 515.3,230 513.8,236.9 514.6,239.6" fill="none" stroke="#6b6b55" stroke-width="0.45"/>
<polyline points="513.8,236.9 522.2,238.4 528.4,237.6 532.2,236.1 537.3,234.6" fill="none" stroke="#6b6b55" stroke-width="0.45"/>
<polyline points="533,255.3 537.6,259.2 542.2,264.5" fill="none" stroke="#6b6b55" stroke-width="0.45"/>
<polyline points="494.3,243 496.9,246.1 500.7,250.7 505.3,249.2 506.9,248.9" fill="none" stroke="#6b6b55" stroke-width="0.45"/>
<polyline points="500.7,250.7 501.5,256.9 503,261.5 502.3,266.1 498.4,267.6 494.6,269.1 493,269.9" fill="none" stroke="#6b6b55" stroke-width="0.45"/>
<polyline points="488.4,252.2 493,253.8 494.6,250.7 496.9,246.1" fill="none" stroke="#6b6b55" stroke-width="0.45"/>
<polyline points="484.6,263 490,261.5 494.6,263 498.4,267.6" fill="none" stroke="#6b6b55" stroke-width="0.45"/>
<polyline points="503,261.5 506.9,260.7 511.5,261.5 516.1,255.3" fill="none" stroke="#6b6b55" stroke-width="0.45"/>
<polyline points="502.3,266.1 506.1,269.1 510,273.8 511.5,279.9 508.4,282.2 504.6,286 500.7,287.6 498.4,286.8" fill="none" stroke="#6b6b55" stroke-width="0.45"/>
<polyline points="511.5,279.9 515.3,273.8 516.1,267.6 518.9,266.8" fill="none" stroke="#6b6b55" stroke-width="0.45"/>
<polyline points="515.3,273.8 519.9,272.2" fill="none" stroke="#6b6b55" stroke-width="0.45"/>
<polyline points="511.5,279.9 514.6,284.5 519.2,286 522.2,283 522.2,276.8" fill="none" stroke="#6b6b55" stroke-width="0.45"/>
<polyline points="522.2,283 526.9,283.7 530.7,283 532.2,275.3" fill="none" stroke="#6b6b55" stroke-width="0.45"/>
<polyline points="504.6,286 506.1,292.2 505.3,298.3 506.9,300.6" fill="none" stroke="#6b6b55" stroke-width="0.45"/>
<polyline points="514.6,284.5 513,290.7 516.1,296" fill="none" stroke="#6b6b55" stroke-width="0.45"/>
<polyline points="519.2,286 521.5,289.9 525.3,290.7" fill="none" stroke="#6b6b55" stroke-width="0.45"/>
<polyline points="486.9,291.4 493,290.7 498.4,292.2 506.1,292.2" fill="none" stroke="#6b6b55" stroke-width="0.45"/>
<polyline points="516.1,255.3 513.8,250.7 511.5,247.6" fill="none" stroke="#6b6b55" stroke-width="0.45"/>
<polyline points="218.3,192.7 219.5,196.5 223.9,199 227.7,202.1 232.1,204 235.3,208.4 237.1,212.2 241.5,214.1 246.6,214.7" fill="none" stroke="#6b6b55" stroke-width="0.45"/>
<polyline points="223.9,199 217.6,201.5 213.2,202.8" fill="none" stroke="#6b6b55" stroke-width="0.45"/>
<polyline points="236.5,185.8 235,191.4 235.9,197.7 234,202.1 232.1,204" fill="none" stroke="#6b6b55" stroke-width="0.45"/>
<polyline points="237.1,212.2 240.3,208.4 244.7,205.3 249.1,200.3 254.1,197.7 260.4,196.5" fill="none" stroke="#6b6b55" stroke-width="0.45"/>
<polyline points="213.9,187 215.8,190.2 218.3,192.7" fill="none" stroke="#6b6b55" stroke-width="0.45"/>
<polyline points="292.1,372.7 297.9,369.8 303.7,365.9 306.6,362" fill="none" stroke="#6b6b55" stroke-width="0.45"/>
<polyline points="282.5,329.3 288.3,333.1 294,335.1 298.9,336.4" fill="none" stroke="#6b6b55" stroke-width="0.45"/>
<polyline points="273.8,345.7 280.5,346.6 289.2,349.5" fill="none" stroke="#6b6b55" stroke-width="0.45"/>
<polyline points="279,357.2 286.3,353.4" fill="none" stroke="#6b6b55" stroke-width="0.45"/>
<polyline points="297.9,369.8 299.8,376.5 301.7,383.3 299.8,387.1 293.1,389" fill="none" stroke="#6b6b55" stroke-width="0.45"/>
<polyline points="301.7,383.3 309.5,384.2 316.2,386.1" fill="none" stroke="#6b6b55" stroke-width="0.45"/>
<polyline points="299.8,387.1 301.7,392.9 300.8,398.7 306.6,400.6 313.3,398.7 319.1,396.7" fill="none" stroke="#6b6b55" stroke-width="0.45"/>
<polyline points="292.1,397.7 296,399.6 300.8,398.7" fill="none" stroke="#6b6b55" stroke-width="0.45"/>
<polyline points="291.1,404.5 289.2,410.2 290.2,416 288.3,421.8 289.2,425.7" fill="none" stroke="#6b6b55" stroke-width="0.45"/>
<polyline points="300.8,398.7 301.7,406.4 303.7,412.2 301.7,417 297.9,418 290.2,417" fill="none" stroke="#6b6b55" stroke-width="0.45"/>
<polyline points="313.3,398.7 311.4,406.4 309.5,412.2 303.7,412.2" fill="none" stroke="#6b6b55" stroke-width="0.45"/>
<polyline points="309.5,412.2 311.4,418 317.2,419.9 323,418 328.7,423.7" fill="none" stroke="#6b6b55" stroke-width="0.45"/>
<polyline points="301.7,417 303.7,423.7 299.8,429.5 300.8,436.3" fill="none" stroke="#6b6b55" stroke-width="0.45"/>
<polyline points="303.7,423.7 311.4,425.7 317.2,419.9" fill="none" stroke="#6b6b55" stroke-width="0.45"/>
<polyline points="292.1,346.6 294,352.4 291.1,358.6" fill="none" stroke="#6b6b55" stroke-width="0.45"/>
<polyline points="296.9,343.7 299.8,348.6 305.6,353.4" fill="none" stroke="#6b6b55" stroke-width="0.45"/>
<polyline points="281.5,410.2 286.3,412.2 289.2,410.2" fill="none" stroke="#6b6b55" stroke-width="0.45"/>
<polyline points="279.6,414.1 284.4,418 288.3,421.8" fill="none" stroke="#6b6b55" stroke-width="0.45"/>
<polyline points="287.3,428.6 292.1,429.5 299.8,429.5" fill="none" stroke="#6b6b55" stroke-width="0.45"/>
<polyline points="273.8,433.4 276.7,437.2 276.7,440.7" fill="none" stroke="#6b6b55" stroke-width="0.45"/>
<polyline points="234.3,386.1 240.1,387.1 245.8,385.2 248.7,379.4" fill="none" stroke="#6b6b55" stroke-width="0.45"/>
<polyline points="245.8,385.2 246.8,392.9 249.7,398.7 248.7,404.5 247.8,410.6" fill="none" stroke="#6b6b55" stroke-width="0.45"/>
<polyline points="249.7,398.7 256.4,397.7 261.3,394.8 264.7,392.9" fill="none" stroke="#6b6b55" stroke-width="0.45"/>
<polyline points="256.4,384.2 257.4,391 256.4,397.7" fill="none" stroke="#6b6b55" stroke-width="0.45"/>
<polyline points="235.2,393.9 242,394.8 246.8,392.9" fill="none" stroke="#6b6b55" stroke-width="0.45"/>
<polyline points="226.6,408.3 234.3,406.4 242,405.4 248.7,404.5" fill="none" stroke="#6b6b55" stroke-width="0.45"/>
<polyline points="258.4,369.8 261.3,366.9 266.1,365.9" fill="none" stroke="#6b6b55" stroke-width="0.45"/>
<polyline points="265.5,377.9 266.1,382.9" fill="none" stroke="#6b6b55" stroke-width="0.45"/>
<polyline points="402.6,254 404.5,262.2 401.7,269.4 400.8,274.9 406.3,273.1 411.7,271.3 416.3,274.9 420.8,278.5" fill="none" stroke="#6b6b55" stroke-width="0.45"/>
<polyline points="387.2,282.2 394.5,277.6 400.8,274.9" fill="none" stroke="#6b6b55" stroke-width="0.45"/>
<polyline points="391.8,286.7 398.1,295.8 403.6,302.1 409,305.7 413.5,303 419.9,303.9 422.6,305.7" fill="none" stroke="#6b6b55" stroke-width="0.45"/>
<polyline points="398.1,295.8 394.5,300.3 389.9,301.2" fill="none" stroke="#6b6b55" stroke-width="0.45"/>
<polyline points="389.9,309.4 396.3,307.9 401.7,311.2 403.6,316.6 409,319.4 411.7,323" fill="none" stroke="#6b6b55" stroke-width="0.45"/>
<polyline points="385.4,309.4 383.6,316.6 380,323.9 379.1,331.2 380,337.5" fill="none" stroke="#6b6b55" stroke-width="0.45"/>
<polyline points="401.7,311.2 398.1,318.4 399.9,325.7 400.8,332.1" fill="none" stroke="#6b6b55" stroke-width="0.45"/>
<polyline points="383.6,316.6 389.9,309.4" fill="none" stroke="#6b6b55" stroke-width="0.45"/>
<polyline points="409,305.7 410.8,313 409,319.4" fill="none" stroke="#6b6b55" stroke-width="0.45"/>
<polyline points="413.5,303 418.1,309.4 419,320.3" fill="none" stroke="#6b6b55" stroke-width="0.45"/>
<polyline points="389,305.7 389.9,309.4" fill="none" stroke="#6b6b55" stroke-width="0.45"/>
<polyline points="391.7,358.5 396.4,360.2 401.1,359.6 405.8,361.4 409.3,361.4" fill="none" stroke="#6b6b55" stroke-width="0.45"/>
<polyline points="390.8,370.2 395.3,372.6 400,370.2 403.5,372.6 406.4,373.7" fill="none" stroke="#6b6b55" stroke-width="0.45"/>
<polyline points="392.3,385.5 397.6,386.6 402.3,385.5 404.6,387.2" fill="none" stroke="#6b6b55" stroke-width="0.45"/>
<polyline points="396.4,400.7 401.1,399.6 405.8,400.7 410.5,398.4 415.2,399" fill="none" stroke="#6b6b55" stroke-width="0.5"/>
<polyline points="545.4,333.5 541.6,335.4 537.9,332.9 534.1,331.6 530.3,329.1 526.5,327.2 522.8,328.5 520.3,330.4 518.4,329.1" fill="none" stroke="#6b6b55" stroke-width="0.45"/>
<polyline points="550.5,355.1 545.5,357.6 540.4,358.9 537.3,355.7 530.4,353.8 526.6,351.6 522.8,353.8 517.8,354.5 510.3,354.8 505.2,355.7 500.2,357 495.8,354.8" fill="none" stroke="#6b6b55" stroke-width="0.45"/>
<polyline points="517.7,305.8 519,310.3 516.5,311.5" fill="none" stroke="#6b6b55" stroke-width="0.45"/>
<polyline points="522.8,303.7 522.1,310.3" fill="none" stroke="#6b6b55" stroke-width="0.45"/>
<polyline points="527.8,303.3 528.4,314" fill="none" stroke="#6b6b55" stroke-width="0.45"/>
<polyline points="532.2,304 532.8,312.1" fill="none" stroke="#6b6b55" stroke-width="0.45"/>
<polyline points="513,317.2 517.7,320.3 521.5,315.9" fill="none" stroke="#6b6b55" stroke-width="0.45"/>
<polyline points="517.7,320.3 519,325.3 517.7,325.3" fill="none" stroke="#6b6b55" stroke-width="0.45"/>
<polyline points="525.9,317.8 526.5,322.8 522.8,328.5" fill="none" stroke="#6b6b55" stroke-width="0.45"/>
<polyline points="526.5,322.8 531.6,318.4" fill="none" stroke="#6b6b55" stroke-width="0.45"/>
<polyline points="531.6,324.1 535.3,322.8" fill="none" stroke="#6b6b55" stroke-width="0.45"/>
<polyline points="531.6,324.1 530.3,329.1" fill="none" stroke="#6b6b55" stroke-width="0.45"/>
<polyline points="535.1,325.3 534.1,331.6" fill="none" stroke="#6b6b55" stroke-width="0.45"/>
<polyline points="522.8,328.5 524,335.4 521.5,340.4 519,340.4" fill="none" stroke="#6b6b55" stroke-width="0.45"/>
<polyline points="530.3,329.1 531.6,336.7 535.3,340.4 540.4,337.9 541.6,335.4" fill="none" stroke="#6b6b55" stroke-width="0.45"/>
<polyline points="531.6,336.7 526.5,343 524,348 521.5,355.5" fill="none" stroke="#6b6b55" stroke-width="0.45"/>
<polyline points="535.3,340.4 536.6,346.7 534.1,351.8 536.6,355.5" fill="none" stroke="#6b6b55" stroke-width="0.45"/>
<polyline points="540.4,337.9 545.4,345.5 553.6,347.5" fill="none" stroke="#6b6b55" stroke-width="0.45"/>
<polyline points="508.3,338.6 509.6,345.5 507.7,351.8 510.2,356.8" fill="none" stroke="#6b6b55" stroke-width="0.45"/>
<polyline points="514,344.5 515.2,350.5 521.5,355.5" fill="none" stroke="#6b6b55" stroke-width="0.45"/>
<polyline points="527.2,366.4 529.1,371.4 525.3,376.5 522.2,380.3" fill="none" stroke="#6b6b55" stroke-width="0.45"/>
<polyline points="529.1,371.4 535.4,370.2 539.8,371.4" fill="none" stroke="#6b6b55" stroke-width="0.45"/>
<polyline points="529.7,363.3 535.4,365.2 540.4,358.9" fill="none" stroke="#6b6b55" stroke-width="0.45"/>
<polyline points="535.4,370.2 536.7,375.2 532.9,380.3 530.4,388.4" fill="none" stroke="#6b6b55" stroke-width="0.45"/>
<polyline points="525.3,376.5 529.1,381.5 532.9,380.3" fill="none" stroke="#6b6b55" stroke-width="0.45"/>
<polyline points="536.7,358.9 540.4,358.9" fill="none" stroke="#6b6b55" stroke-width="0.45"/>
<polyline points="532.9,360.8 535.4,365.2" fill="none" stroke="#6b6b55" stroke-width="0.45"/>
<polyline points="281.7,546.9 289.5,552.8 297.4,556.7 305.2,557.7 316.9,560.6 324.7,565.5 331.6,567.5" fill="none" stroke="#6b6b55" stroke-width="0.6"/>
<polyline points="201.5,551.8 209.3,552.8 215.2,555.7 221.1,552.8 225,558.7 226,564.5 219.1,567.5 218.1,573.3 217.2,579.2 215.2,584.1 209.3,587 210.3,592.9 212.3,597.8 209.3,603.7 207.4,608.6 205.4,612.5 202.5,617.4" fill="none" stroke="#6b6b55" stroke-width="0.6"/>
<polyline points="224,532.3 226,538.1 222.1,544 224,550.9 221.1,552.8" fill="none" stroke="#6b6b55" stroke-width="0.45"/>
<polyline points="226,538.1 236.7,541.1 246.5,542.1 254.3,541.1 262.2,544 264.1,546.9" fill="none" stroke="#6b6b55" stroke-width="0.45"/>
<polyline points="238.7,535.2 238.7,541.1" fill="none" stroke="#6b6b55" stroke-width="0.45"/>
<polyline points="254.3,541.1 255.3,538.5" fill="none" stroke="#6b6b55" stroke-width="0.45"/>
<polyline points="264.1,546.9 267,545 272.9,546.9 277.8,547.9" fill="none" stroke="#6b6b55" stroke-width="0.45"/>
<polyline points="264.1,546.9 266.1,552.8 271.9,555.7 273.9,552.8 278.8,548.9 281.7,546.9" fill="none" stroke="#6b6b55" stroke-width="0.45"/>
<polyline points="264.1,556.7 268,554.8 273.9,558.7 277.8,563.6 275.8,566.5 270,563.6 264.1,561.6 263.1,558.7 264.1,556.7" fill="none" stroke="#6b6b55" stroke-width="0.45"/>
<polyline points="281.7,546.9 286.6,551.8 289.5,554.8 285.6,558.7 281.7,564.5 277.8,563.6" fill="none" stroke="#6b6b55" stroke-width="0.45"/>
<polyline points="275.8,566.5 273.9,571.4 271,575.3 271.9,579.2" fill="none" stroke="#6b6b55" stroke-width="0.45"/>
<polyline points="218.1,573.3 220.1,578.2 226.9,580.2 232.8,584.1 238.7,585.1 244.5,585.1" fill="none" stroke="#6b6b55" stroke-width="0.45"/>
<polyline points="256.3,575.3 262.2,573.3 268,576.3 271.9,579.2" fill="none" stroke="#6b6b55" stroke-width="0.45"/>
<polyline points="220.1,578.2 215.2,584.1" fill="none" stroke="#6b6b55" stroke-width="0.45"/>
<polyline points="232.8,584.1 231.8,591.9 236.7,597.8 234.8,603.7 236.7,608.6 232.8,612.5 226.9,614.4 221.1,615.4" fill="none" stroke="#6b6b55" stroke-width="0.45"/>
<polyline points="207.4,608.6 215.2,611.5 221.1,615.4" fill="none" stroke="#6b6b55" stroke-width="0.45"/>
<polyline points="236.7,608.6 244.5,610.5 252.4,614.4 258.2,613.4 261.2,617.4 262.2,623.2" fill="none" stroke="#6b6b55" stroke-width="0.45"/>
<polyline points="271.9,579.2 273.9,586.1 277.8,591.9 281.7,595.8 277.8,599.8 275.8,605.6 276.8,612.5 273.9,615.4 268,617.4 262.2,623.2 265.1,629.1 266.1,635" fill="none" stroke="#6b6b55" stroke-width="0.45"/>
<polyline points="276.8,612.5 279.8,617.4 280.7,629.1" fill="none" stroke="#6b6b55" stroke-width="0.45"/>
<polyline points="281.7,595.8 289.5,591.9 293.4,588 297.4,586.1" fill="none" stroke="#6b6b55" stroke-width="0.45"/>
<polyline points="201.5,567.5 209.3,568.5 219.1,567.5" fill="none" stroke="#6b6b55" stroke-width="0.45"/>
<polyline points="194.7,580.2 203.5,578.2 211.3,576.3 218.1,573.3" fill="none" stroke="#6b6b55" stroke-width="0.45"/>
<polyline points="191.7,589 201.5,588 209.3,587" fill="none" stroke="#6b6b55" stroke-width="0.45"/>
<polyline points="189.8,601.7 199.6,599.8 209.3,603.7" fill="none" stroke="#6b6b55" stroke-width="0.45"/>
<polyline points="187.8,613.4 197.6,611.5 207.4,608.6" fill="none" stroke="#6b6b55" stroke-width="0.45"/>
<polyline points="294.1,469.3 295.1,474.2 297.1,477.2 290.2,482.1 284.3,486 281.4,486.9" fill="none" stroke="#6b6b55" stroke-width="0.45"/>
<polyline points="294.1,469.3 302.9,473.3 311.7,475.2 317.6,472.3 323.5,469.3 326.4,462.5 327.4,453.7" fill="none" stroke="#6b6b55" stroke-width="0.45"/>
<polyline points="326.4,462.5 333.2,465.4 341.1,464.4 347.9,460.5 350.8,455.6 348.9,449.8 343,445.9 337.2,442.9" fill="none" stroke="#6b6b55" stroke-width="0.45"/>
<polyline points="323.5,469.3 326.4,476.2 333.2,479.1 340.1,478.1 342,471.3 341.1,464.4" fill="none" stroke="#6b6b55" stroke-width="0.45"/>
<polyline points="311.7,475.2 315.6,482.1 309.8,487.9 306.8,492.8 299,494.8 298,502.6 292.2,504.5" fill="none" stroke="#6b6b55" stroke-width="0.45"/>
<polyline points="306.8,492.8 311.7,498.7 317.6,504.5 327.4,506.5 335.2,502.6 336.2,494.8 337.2,485 340.1,478.1" fill="none" stroke="#6b6b55" stroke-width="0.45"/>
<polyline points="342,471.3 348.9,477.2 356.7,473.3 364.5,475.2 368.4,469.3" fill="none" stroke="#6b6b55" stroke-width="0.45"/>
<polyline points="337.2,485 345,486.9 354.8,490.9 362.6,487.9 370.4,486.9 380.2,488.9 384.1,479.1 390,469.3 391.9,464.4" fill="none" stroke="#6b6b55" stroke-width="0.45"/>
<polyline points="335.2,502.6 341.1,506.5 346.9,510.4 354.8,508.5 361.6,511.4 368.4,508.5 372.4,504.5" fill="none" stroke="#6b6b55" stroke-width="0.45"/>
<polyline points="327.4,506.5 329.3,516.3 323.5,526.1 325.4,530 331.3,531 337.2,530 343,533.9 348.9,539.8 350.8,541.7" fill="none" stroke="#6b6b55" stroke-width="0.45"/>
<polyline points="323.5,526.1 315.6,530 311.7,535.8 305.9,539.8 298,540.7 296.1,546.6 297.1,554.4 303.9,558.3" fill="none" stroke="#6b6b55" stroke-width="0.45"/>
<polyline points="350.8,541.7 358.7,537.8 364.5,533.9 370.4,531 372.4,524.1 376.3,522.2" fill="none" stroke="#6b6b55" stroke-width="0.45"/>
<polyline points="350.8,541.7 348.9,546.6 345,552.5" fill="none" stroke="#6b6b55" stroke-width="0.45"/>
<polyline points="372.4,504.5 370.4,514.3 372.4,524.1" fill="none" stroke="#6b6b55" stroke-width="0.45"/>
<polyline points="376.3,522.2 382.1,524.1 380.2,531.9 384.1,537.8 390,543.7" fill="none" stroke="#6b6b55" stroke-width="0.6"/>
<polyline points="367.5,507.5 372.4,514.3 376.3,518.2 380.2,517.3" fill="none" stroke="#6b6b55" stroke-width="0.6"/>
<polyline points="453.5,510.4 455.8,515.1 455,519.8 458.2,524.5 458.2,530.7" fill="none" stroke="#6b6b55" stroke-width="0.35"/>
<polyline points="461.3,507.3 462.1,511.9 466,516.6 467.6,521.3 468.3,526.8" fill="none" stroke="#6b6b55" stroke-width="0.35"/>
<polyline points="466.8,511.9 469.1,516.6 473.8,518.2 478.5,525.3" fill="none" stroke="#6b6b55" stroke-width="0.35"/>
<polyline points="473.8,518.2 478.5,517.4 483.2,515.1" fill="none" stroke="#6b6b55" stroke-width="0.35"/>
<polyline points="483.2,515.1 484.8,519.8 484.8,524.5" fill="none" stroke="#6b6b55" stroke-width="0.35"/>
<polyline points="492.6,515.1 491.8,519.8 491,523.7" fill="none" stroke="#6b6b55" stroke-width="0.35"/>
<polyline points="448,511.9 448.8,518.2 452.7,521.3 450.3,526.8" fill="none" stroke="#6b6b55" stroke-width="0.35"/>
<polyline points="455.8,515.1 461.3,516.6 466,516.6" fill="none" stroke="#6b6b55" stroke-width="0.35"/>
<polyline points="444.9,518.2 448.8,518.2" fill="none" stroke="#6b6b55" stroke-width="0.35"/>
<polyline points="497.3,496.3 497.3,501 496.5,504.9" fill="none" stroke="#6b6b55" stroke-width="0.35"/>
<polyline points="501.2,495.5 500.4,502.6 498.9,511.2" fill="none" stroke="#6b6b55" stroke-width="0.35"/>
<polyline points="459,535.4 463.6,538.6 468.3,533.9" fill="none" stroke="#6b6b55" stroke-width="0.35"/>
<polyline points="463.6,542.5 469.1,541.7 472.3,541.7" fill="none" stroke="#6b6b55" stroke-width="0.35"/>
<polyline points="470.7,550.3 475.4,545.6" fill="none" stroke="#6b6b55" stroke-width="0.35"/>
<polyline points="453.5,530.7 455.8,534.6" fill="none" stroke="#8a9a9c" stroke-width="0.5"/>
<polyline points="455,536.2 458.2,540.9" fill="none" stroke="#8a9a9c" stroke-width="0.5"/>
<polyline points="459,542.5 462.1,546.4" fill="none" stroke="#8a9a9c" stroke-width="0.5"/>
<polyline points="463.6,547.9 466.8,551.1" fill="none" stroke="#8a9a9c" stroke-width="0.5"/>
<polyline points="471.5,557.3 476.9,558.6" fill="none" stroke="#8a9a9c" stroke-width="0.5"/>
<polyline points="476.9,559.7 484,560.8" fill="none" stroke="#8a9a9c" stroke-width="0.5"/>
<polyline points="477.7,556.5 482.4,557.6" fill="none" stroke="#8a9a9c" stroke-width="0.5"/>
<polyline points="564,563.6 566.3,566.7 570.3,567.5 572.6,568.3" fill="none" stroke="#6b6b55" stroke-width="0.45"/>
<polyline points="529.6,585.5 533.5,588.6 537.4,590.2 542.1,592.6 543.6,591.8" fill="none" stroke="#6b6b55" stroke-width="0.45"/>
<polyline points="533.5,583.2 534.3,588.6" fill="none" stroke="#6b6b55" stroke-width="0.45"/>
<polyline points="543.6,591.8 547.6,588.6 548.3,588.6" fill="none" stroke="#6b6b55" stroke-width="0.45"/>
<polyline points="543.6,591.8 545.2,596.5 549.1,598.8 555.4,596.5" fill="none" stroke="#6b6b55" stroke-width="0.45"/>
<polyline points="523.3,598 528.8,597.3 533.5,598 535,601.9 533.5,605.9 529.6,610.6" fill="none" stroke="#6b6b55" stroke-width="0.45"/>
<polyline points="535,601.9 541.3,601.2 545.2,596.5" fill="none" stroke="#6b6b55" stroke-width="0.45"/>
<polyline points="541.3,601.2 543.6,606.6 547.6,605.9 553,605.1" fill="none" stroke="#6b6b55" stroke-width="0.45"/>
<polyline points="543.6,606.6 542.9,611.3 539,613.7 535.8,618.4" fill="none" stroke="#6b6b55" stroke-width="0.45"/>
<polyline points="542.9,611.3 548.3,612.1 555.4,606.6" fill="none" stroke="#6b6b55" stroke-width="0.45"/>
<polyline points="548.3,612.1 550.7,617.3" fill="none" stroke="#6b6b55" stroke-width="0.45"/>
<polyline points="558.5,607.4 560.1,612.9 564.8,618.4" fill="none" stroke="#6b6b55" stroke-width="0.45"/>
<polyline points="542.1,576.9 543.6,580.8 548.3,582.4 551.5,584.7" fill="none" stroke="#6b6b55" stroke-width="0.45"/>
<polyline points="548.3,582.4 543.6,591.8" fill="none" stroke="#6b6b55" stroke-width="0.45"/>
<polyline points="546,620.4 546.8,625.4 542.9,628.6 540.5,630.1" fill="none" stroke="#6b6b55" stroke-width="0.45"/>
<polyline points="546.8,625.4 553,626.2 556.9,623.9 559.3,621" fill="none" stroke="#6b6b55" stroke-width="0.45"/>
<polyline points="553,626.2 552.3,633.2 549.9,638.7" fill="none" stroke="#6b6b55" stroke-width="0.45"/>
<polyline points="552.3,633.2 556.9,634.8 559.3,633.2" fill="none" stroke="#6b6b55" stroke-width="0.45"/>
<polyline points="549.8,536.4 550.4,547" fill="none" stroke="#6b6b55" stroke-width="0.45"/>
<polyline points="538.3,531.4 543,532.2 548.5,534.5 556.3,535.8 562.6,535.3 568.9,534.5 575.1,531.4 577.5,529 581.4,525.9 585.3,524.3 590.8,524.3 593.9,526.7 597.8,531.4" fill="none" stroke="#6b6b55" stroke-width="0.5"/>
<polyline points="525.8,471.9 523.5,478.2 520.3,483.6 517.2,488.3 515.6,489.1" fill="none" stroke="#6b6b55" stroke-width="0.5"/>
<polyline points="522.7,494.6 523.5,500.1 521.9,504.8 523.5,509.5 518.8,511.8" fill="none" stroke="#6b6b55" stroke-width="0.5"/>
<polyline points="531.3,475 533.6,481.3 539.1,483.6 545.4,483.6" fill="none" stroke="#6b6b55" stroke-width="0.45"/>
<polyline points="539.1,475.8 539.1,483.6 537.6,490.7 540.7,496.9 539.1,503.2 537.6,509.5 535.2,511.8" fill="none" stroke="#6b6b55" stroke-width="0.45"/>
<polyline points="545.4,483.6 540.7,496.9 546.9,498.5 550.1,491.9" fill="none" stroke="#6b6b55" stroke-width="0.45"/>
<polyline points="546.9,498.5 551.6,501.6 557.1,501.6" fill="none" stroke="#6b6b55" stroke-width="0.45"/>
<polyline points="539.1,503.2 545.4,504.8 550.1,509.5 555.6,508.7" fill="none" stroke="#6b6b55" stroke-width="0.45"/>
<polyline points="550.1,509.5 548.5,515.7 551.6,522 550.1,528.2 548.5,534.5" fill="none" stroke="#6b6b55" stroke-width="0.45"/>
<polyline points="537.6,515.7 543.8,517.3 548.5,515.7" fill="none" stroke="#6b6b55" stroke-width="0.45"/>
<polyline points="535.2,525.1 540.7,523.6 545.4,528.2 543,532.2" fill="none" stroke="#6b6b55" stroke-width="0.45"/>
<polyline points="551.6,522 556.3,523.6 560.3,522" fill="none" stroke="#6b6b55" stroke-width="0.45"/>
<polyline points="556.3,523.6 557.1,529.8 556.3,535.8" fill="none" stroke="#6b6b55" stroke-width="0.45"/>
<polyline points="562.6,524.8 564.2,529.8 562.6,535.3" fill="none" stroke="#6b6b55" stroke-width="0.45"/>
<polyline points="566.5,523.6 568.9,528.2 568.9,534.5" fill="none" stroke="#6b6b55" stroke-width="0.45"/>
<polyline points="571.2,521.2 573.6,524.8 575.1,531.4" fill="none" stroke="#6b6b55" stroke-width="0.45"/>
<polyline points="576.4,524.3 581.4,525.9" fill="none" stroke="#6b6b55" stroke-width="0.45"/>
<polyline points="583.7,514.2 585.3,518.9 585.3,524.3" fill="none" stroke="#6b6b55" stroke-width="0.45"/>
<polyline points="593.1,512.6 595.5,517.3 600.9,522" fill="none" stroke="#6b6b55" stroke-width="0.45"/>
<polyline points="593.9,504 593.9,508.7" fill="none" stroke="#6b6b55" stroke-width="0.45"/>
<polyline points="567.3,480.5 571.2,477.4" fill="none" stroke="#6b6b55" stroke-width="0.45"/>
<polyline points="562.6,481.3 562.6,485.2" fill="none" stroke="#6b6b55" stroke-width="0.45"/>
<polyline points="569.6,496.2 573.6,497.7" fill="none" stroke="#6b6b55" stroke-width="0.45"/>
<polyline points="562.6,498.5 563.4,499.3" fill="none" stroke="#6b6b55" stroke-width="0.45"/>
<polyline points="555.6,485.2 559.5,484.4" fill="none" stroke="#6b6b55" stroke-width="0.45"/>
<polyline points="553.2,488.3 557.9,493.8" fill="none" stroke="#6b6b55" stroke-width="0.45"/>
<polyline points="550.1,491.9 554,496.9 557.1,501.6" fill="none" stroke="#6b6b55" stroke-width="0.45"/>
<polyline points="555.6,547 559.5,550.2 565.7,548.6 572,550.2 577.5,548.6" fill="none" stroke="#6b6b55" stroke-width="0.45"/>
<polyline points="559.5,550.2 558.7,556.4 561,562.1" fill="none" stroke="#6b6b55" stroke-width="0.45"/>
<polyline points="565.7,548.6 567.3,554.9 565.7,562.1" fill="none" stroke="#6b6b55" stroke-width="0.45"/>
<polyline points="572,550.2 573.6,556.4 578.2,559.5 581.4,562.1" fill="none" stroke="#6b6b55" stroke-width="0.45"/>
<polyline points="584.5,547.8 589.2,548.6 593.9,547 597,554.1" fill="none" stroke="#6b6b55" stroke-width="0.45"/>
<polyline points="582.2,551.7 584.5,558 587.6,562.1" fill="none" stroke="#6b6b55" stroke-width="0.45"/>
<polyline points="566.5,541.5 568.9,540.8" fill="none" stroke="#6b6b55" stroke-width="0.45"/>
<polyline points="561.8,543.1 562.6,548.6" fill="none" stroke="#6b6b55" stroke-width="0.45"/>
<polyline points="568.9,538.4 568.1,536.9" fill="none" stroke="#6b6b55" stroke-width="0.45"/>
<polyline points="590,539.2 590.8,540" fill="none" stroke="#6b6b55" stroke-width="0.45"/>
<polyline points="593.9,541.1 593.9,542.3" fill="none" stroke="#6b6b55" stroke-width="0.45"/>
<polyline points="552.4,547.8 551.6,553.3 548.5,558" fill="none" stroke="#6b6b55" stroke-width="0.45"/>
<polyline points="543.8,547 548.5,550.2 551.6,553.3" fill="none" stroke="#6b6b55" stroke-width="0.45"/>
<polyline points="500,459.4 506.3,461 512.5,459.4 517.2,462.5 523.5,459.4 529,461" fill="none" stroke="#6b6b55" stroke-width="0.45"/>
<polyline points="506.3,461 507.8,467.2 504.7,471.9 500,473.5" fill="none" stroke="#6b6b55" stroke-width="0.45"/>
<polyline points="517.2,462.5 518.8,468.8 515.6,473.5 509.4,473.5 504.7,471.9" fill="none" stroke="#6b6b55" stroke-width="0.45"/>
<polyline points="518.8,468.8 525.8,471.9" fill="none" stroke="#6b6b55" stroke-width="0.45"/>
<polyline points="515.6,473.5 517.2,479.7 520.3,483.6" fill="none" stroke="#6b6b55" stroke-width="0.45"/>
<polyline points="509.4,473.5 508.6,479.7 512.5,486" fill="none" stroke="#6b6b55" stroke-width="0.45"/>
<polyline points="500,479 508.6,479.7" fill="none" stroke="#6b6b55" stroke-width="0.45"/>
<polyline points="517.2,479.7 512.5,486" fill="none" stroke="#6b6b55" stroke-width="0.45"/>
<polyline points="507.8,487.6 506.3,496.2" fill="none" stroke="#6b6b55" stroke-width="0.45"/>
<polyline points="515.6,489.1 516.4,492.3" fill="none" stroke="#6b6b55" stroke-width="0.45"/>
<polyline points="509.4,498.5 513.3,501.6" fill="none" stroke="#6b6b55" stroke-width="0.45"/>
<polyline points="505.5,504.8 511,506.3 514.1,509.5" fill="none" stroke="#6b6b55" stroke-width="0.45"/>
<polyline points="515.6,505.6 518.8,511.8" fill="none" stroke="#6b6b55" stroke-width="0.45"/>
<polyline points="363.5,416.9 368.9,415.4 373.6,416.9 379.1,416.1" fill="none" stroke="#6b6b55" stroke-width="0.45"/>
<polyline points="361.9,421.6 368.2,422.4 372.8,420 373.6,416.9" fill="none" stroke="#6b6b55" stroke-width="0.45"/>
<polyline points="368.2,422.4 368.9,427.9 371.3,427.9" fill="none" stroke="#6b6b55" stroke-width="0.45"/>
<polyline points="354.9,421.6 361.9,421.6" fill="none" stroke="#6b6b55" stroke-width="0.45"/>
<polyline points="357.2,427.9 363.5,428.6 368.9,427.9" fill="none" stroke="#6b6b55" stroke-width="0.45"/>
<polyline points="360.3,412.2 363.5,408.3 369.7,407.5 373.6,406.3" fill="none" stroke="#6b6b55" stroke-width="0.45"/>
<polyline points="381.4,403.6 379.9,410.7 380.7,416.9 376.8,420 375.2,424.7 371.3,427.9 370.5,432.6 368.9,438.8 368.2,443.5 371.3,448.2 370.5,452.9 371.3,457.6 373.6,462.3 371.3,463.8 377.5,465.4 382.2,468.5 386.9,470.1 390,473.2 388.5,479.5 386.9,482 387.7,485.7" fill="none" stroke="#6b6b55" stroke-width="0.55"/>
<polyline points="349.4,429.4 352.5,432.6 358.8,434.1 365,433.3 370.5,432.6" fill="none" stroke="#6b6b55" stroke-width="0.55"/>
<polyline points="343.1,434.9 346.3,438.8 350.9,441.9 351.7,446.6 357.2,448.2 361.9,451.3 367.4,453.7 371.3,457.6" fill="none" stroke="#6b6b55" stroke-width="0.55"/>
<polyline points="371.3,463.8 368.9,460.7 367.4,453.7" fill="none" stroke="#6b6b55" stroke-width="0.55"/>
<polyline points="445.6,401.3 444.8,405.2 445.1,411 444,415.4 447.9,420 449.5,427.9 447.9,432.6 451,434.1 452.6,438 456.5,441.2 460.4,440.4 463.6,444.3 468.2,446.6 472.9,445.1 476.1,449.8 474.5,454.5 476.1,460.7 474.5,467 473.7,473.2 468.2,476.3 462,477.9 455.7,479.5 449.5,476.3 443.2,477.9 437,482 433.8,485.7" fill="none" stroke="#6b6b55" stroke-width="0.55"/>
<polyline points="426.8,445.1 431.5,448.2 437,445.1 443.2,442.7 449.5,441.2 452.6,438" fill="none" stroke="#6b6b55" stroke-width="0.55"/>
<polyline points="424.5,449.8 427.6,454.5 431.5,459.1 433.8,463.8 438.5,470.1 442.4,473.2 443.2,477.9" fill="none" stroke="#6b6b55" stroke-width="0.55"/>
<polyline points="426.8,445.1 424.5,449.8" fill="none" stroke="#6b6b55" stroke-width="0.55"/>
<polyline points="349.4,438.8 355.6,438.8 361.9,440.4 368.2,438.8" fill="none" stroke="#6b6b55" stroke-width="0.45"/>
<polyline points="355.6,438.8 357.2,444.3 357.2,448.2" fill="none" stroke="#6b6b55" stroke-width="0.45"/>
<polyline points="361.9,440.4 363.5,446.6 361.9,451.3" fill="none" stroke="#6b6b55" stroke-width="0.45"/>
<polyline points="395.5,402.1 399.4,403.6 404.9,403.6 408,407.5 413.5,408.3 418.2,412.2 425.2,415.4" fill="none" stroke="#6b6b55" stroke-width="0.45"/>
<polyline points="413.5,408.3 415.9,403.6 421.3,401.3 426.8,403.6 433.8,409.9 440.1,406.8 443.2,400.5" fill="none" stroke="#6b6b55" stroke-width="0.45"/>
<polyline points="425.2,415.4 427.6,411 433.8,409.9" fill="none" stroke="#6b6b55" stroke-width="0.45"/>
<polyline points="440.1,406.8 445.1,411" fill="none" stroke="#6b6b55" stroke-width="0.45"/>
<polyline points="425.2,415.4 426,423.2 426.8,429.4 429.9,432.6 432.3,435.7 440.1,437.3 443.2,435.7 447.9,432.6" fill="none" stroke="#6b6b55" stroke-width="0.45"/>
<polyline points="413.5,415.4 425.2,415.4" fill="none" stroke="#6b6b55" stroke-width="0.45"/>
<polyline points="408,407.5 410.4,413 413.5,415.4 415.1,423.2 411.9,429.4 413.5,435.7 418.2,438.8 422.9,441.9 426.8,440.4 427.6,435.7 429.9,432.6" fill="none" stroke="#6b6b55" stroke-width="0.45"/>
<polyline points="432.3,435.7 427.6,440.4 426.8,445.1" fill="none" stroke="#6b6b55" stroke-width="0.45"/>
<polyline points="413.5,435.7 408.8,437.3 405.7,443.5 407.3,448.2 413.5,449.8 419.8,451.3 424.5,449.8" fill="none" stroke="#6b6b55" stroke-width="0.45"/>
<polyline points="380.7,416.9 386.9,420 391.6,418.5 394.7,423.2 399.4,424.7 400.2,431 401.8,434.1 396.3,437.3 393.2,443.5 386.9,446.6 385.4,451.3 390,454.5 391.6,460.7 394.7,463.8 399.4,462.3 401.8,457.6 407.3,451.3 407.3,448.2" fill="none" stroke="#6b6b55" stroke-width="0.45"/>
<polyline points="401.8,434.1 407.3,437.3 408.8,437.3" fill="none" stroke="#6b6b55" stroke-width="0.45"/>
<polyline points="368.9,438.8 376,440.4 382.2,445.1 385.4,451.3" fill="none" stroke="#6b6b55" stroke-width="0.45"/>
<polyline points="371.3,457.6 377.5,459.1 379.1,463.8 377.5,465.4" fill="none" stroke="#6b6b55" stroke-width="0.45"/>
<polyline points="394.7,463.8 405.7,463.8 407.3,470.1 405.7,476.3 407.3,482 407.6,485.7" fill="none" stroke="#6b6b55" stroke-width="0.45"/>
<polyline points="386.9,402.8 388.5,409.1 393.2,411.4 396.3,408.3 395.5,402.1" fill="none" stroke="#6b6b55" stroke-width="0.45"/>
<polyline points="431.5,448.2 435.4,452.9 433.8,459.1 431.5,459.1" fill="none" stroke="#6b6b55" stroke-width="0.45"/>
<polyline points="435.4,452.9 441.7,451.3 443.2,446.6 443.2,442.7" fill="none" stroke="#6b6b55" stroke-width="0.45"/>
<polyline points="441.7,451.3 447.9,449.8 452.6,451.3 455.7,448.2 456.5,441.2" fill="none" stroke="#6b6b55" stroke-width="0.45"/>
<polyline points="433.8,459.1 440.1,462.3 443.2,467 442.4,473.2" fill="none" stroke="#6b6b55" stroke-width="0.45"/>
<polyline points="440.1,462.3 447.9,463.8 454.2,462.3 457.3,457.6 455.7,451.3 452.6,451.3" fill="none" stroke="#6b6b55" stroke-width="0.45"/>
<polyline points="454.2,462.3 455.7,468.5 452.6,473.2 449.5,476.3" fill="none" stroke="#6b6b55" stroke-width="0.45"/>
<polyline points="457.3,457.6 463.6,457.6 468.2,454.5 468.2,446.6" fill="none" stroke="#6b6b55" stroke-width="0.45"/>
<polyline points="463.6,457.6 465.1,463.8 462,470.1 455.7,468.5" fill="none" stroke="#6b6b55" stroke-width="0.45"/>
<polyline points="465.1,463.8 471.4,465.4 474.5,467" fill="none" stroke="#6b6b55" stroke-width="0.45"/>
<circle cx="448.2" cy="456" r="1.8" fill="none" stroke="#6b6b55" stroke-width="0.4"/>
<polyline points="466,386.7 465.2,393.8 467.6,400 466.8,403.2" fill="none" stroke="#6b6b55" stroke-width="0.45"/>
<polyline points="444.9,412.6 450.3,411 456.6,408.6 461.3,406.3 466.8,403.2" fill="none" stroke="#6b6b55" stroke-width="0.45"/>
<polyline points="466.8,403.2 470.7,403.2 476.9,400 483.2,398.5 487.1,400.8 487.9,395.3 486.3,390.6 488.7,388.3" fill="none" stroke="#6b6b55" stroke-width="0.45"/>
<polyline points="487.1,400.8 491,405.5 498.9,404 505.1,400.8 511.4,398.5 515.3,396.9 515.3,390.6 515.3,384.7" fill="none" stroke="#6b6b55" stroke-width="0.45"/>
<polyline points="508.2,401.6 511.4,406.3 517.6,411.8 523.9,414.9 525.5,414.9" fill="none" stroke="#6b6b55" stroke-width="0.45"/>
<polyline points="505.1,400.8 508.2,401.6" fill="none" stroke="#6b6b55" stroke-width="0.45"/>
<polyline points="470.7,403.2 469.9,408.6 472.3,414.1 476.9,416.5 483.2,417.3 488.7,418 490.3,411.8 491,405.5" fill="none" stroke="#6b6b55" stroke-width="0.45"/>
<polyline points="461.3,406.3 459,412.6 458.2,420.4 459.7,426.6 462.9,431.3 469.1,432.9 475.4,435.3 481.6,435.3" fill="none" stroke="#6b6b55" stroke-width="0.45"/>
<polyline points="476.9,416.5 475.4,421.9 476.9,428.2 482.4,430.6" fill="none" stroke="#6b6b55" stroke-width="0.45"/>
<polyline points="448,421.9 453.5,419.6 459,412.6" fill="none" stroke="#6b6b55" stroke-width="0.45"/>
<polyline points="448.8,428.2 453.5,429.8 459.7,426.6" fill="none" stroke="#6b6b55" stroke-width="0.45"/>
<polyline points="453.5,439.9 458.2,438.4 462.9,439.2 469.1,437.6 473.8,439.2 475.4,435.3" fill="none" stroke="#6b6b55" stroke-width="0.45"/>
<polyline points="473.8,439.2 473,445.4 475.4,451.7" fill="none" stroke="#6b6b55" stroke-width="0.45"/>
<polyline points="488.7,418 492.6,418.8" fill="none" stroke="#6b6b55" stroke-width="0.45"/>
<polyline points="502,421.9 508.2,419.6 512.9,420.4 517.6,417.3 523.9,414.9" fill="none" stroke="#6b6b55" stroke-width="0.45"/>
<polyline points="502.8,426.6 508.2,428.2 514.5,426.6 517.6,429.8 515.3,435.3 517.6,437.6 523.9,440.7 530.2,442.3 534.1,443.9" fill="none" stroke="#6b6b55" stroke-width="0.45"/>
<polyline points="515.3,435.3 514.5,440.7 511.4,445.4 512.2,451.7 514.5,456.4 520.8,459.5 529.4,460.3" fill="none" stroke="#6b6b55" stroke-width="0.45"/>
<polyline points="499.6,435.3 505.1,434.5 511.4,433.7 515.3,435.3" fill="none" stroke="#6b6b55" stroke-width="0.45"/>
<polyline points="498.5,442.3 503.6,445.4 511.4,445.4" fill="none" stroke="#6b6b55" stroke-width="0.45"/>
<polyline points="494.2,460.3 498.9,461.1 502.8,466.5 502,468.9" fill="none" stroke="#6b6b55" stroke-width="0.45"/>
<polyline points="503.6,445.4 505.1,451.7 508.2,456.4 512.2,451.7" fill="none" stroke="#6b6b55" stroke-width="0.45"/>
<polyline points="508.2,456.4 505.1,462.6 502.8,466.5" fill="none" stroke="#6b6b55" stroke-width="0.45"/>
<polyline points="398.8,492.5 407.5,490 417.5,491.2 425,487.5 432.5,490 440,487.5 447.5,491.2 455,490 465,485 472.5,480" fill="none" stroke="#6b6b55" stroke-width="0.45"/>
<polyline points="417.5,491.2 420,497.5 427.5,500 435,497.5 442.5,500 450,497.5 460,500 470,500" fill="none" stroke="#6b6b55" stroke-width="0.45"/>
<polyline points="410,505 417.5,502.5 427.5,500" fill="none" stroke="#6b6b55" stroke-width="0.45"/>
<polyline points="442.5,500 443.8,506.2 442.5,511.2" fill="none" stroke="#6b6b55" stroke-width="0.45"/>
<polyline points="450,497.5 452.5,505 455,506.2" fill="none" stroke="#6b6b55" stroke-width="0.45"/>
<polyline points="460,500 462.5,505" fill="none" stroke="#6b6b55" stroke-width="0.45"/>
<polyline points="472.5,480 475,475" fill="none" stroke="#6b6b55" stroke-width="0.45"/>
<polyline points="483.8,482.5 490,480 495,481.2" fill="none" stroke="#6b6b55" stroke-width="0.45"/>
<polyline points="481.2,486.2 485,490 483.8,493" fill="none" stroke="#6b6b55" stroke-width="0.45"/>
<polyline points="503.8,487.5 500,485" fill="none" stroke="#6b6b55" stroke-width="0.45"/>
<polyline points="487.5,495 497.5,497.5" fill="none" stroke="#6b6b55" stroke-width="0.45"/>
<polyline points="507.5,502.5 512.5,510" fill="none" stroke="#6b6b55" stroke-width="0.45"/>
<polyline points="490,501.2 492.5,490 495,484.5" fill="none" stroke="#6b6b55" stroke-width="0.45"/>
<polyline points="518.8,505 525,512.5 526.2,515" fill="none" stroke="#6b6b55" stroke-width="0.45"/>
<circle cx="470" cy="482" r="1.6" fill="none" stroke="#6b6b55" stroke-width="0.4"/>
<circle cx="497.5" cy="489.5" r="1.5" fill="none" stroke="#6b6b55" stroke-width="0.4"/>
<polyline points="360,412.2 361.6,409.1 365,407.4 368.5,406.8" fill="none" stroke="#6b6b55" stroke-width="0.4"/>
<polyline points="407.3,545.2 414,543 421.9,544.1 429.7,541.9" fill="none" stroke="#6b6b55" stroke-width="0.45"/>
<polyline points="409.6,550.8 418.5,549.7 426.3,553 433,546.3" fill="none" stroke="#6b6b55" stroke-width="0.45"/>
<polyline points="426.3,553 428.6,559.7 425.2,566.4 423,570.9" fill="none" stroke="#6b6b55" stroke-width="0.45"/>
<polyline points="428.6,559.7 435.3,560.8 440.8,557.5 442,551.9" fill="none" stroke="#6b6b55" stroke-width="0.45"/>
<polyline points="435.3,560.8 438.6,567.5 436.4,574.2 434.1,579.8" fill="none" stroke="#6b6b55" stroke-width="0.45"/>
<polyline points="438.6,567.5 445.3,564.2 449.8,562" fill="none" stroke="#6b6b55" stroke-width="0.45"/>
<polyline points="438.6,567.5 442,572 445.3,576.5 444.2,585.4" fill="none" stroke="#6b6b55" stroke-width="0.45"/>
<polyline points="442,572 449.8,569.8 454.2,567.5" fill="none" stroke="#6b6b55" stroke-width="0.45"/>
<polyline points="445.3,576.5 452,577.6 458.7,572" fill="none" stroke="#6b6b55" stroke-width="0.45"/>
<polyline points="452,577.6 452,583.2" fill="none" stroke="#6b6b55" stroke-width="0.45"/>
<polyline points="462.1,584.3 463.2,576" fill="none" stroke="#6b6b55" stroke-width="0.45"/>
<polyline points="471.7,598.8 476.6,594.4 483.3,599.9" fill="none" stroke="#6b6b55" stroke-width="0.45"/>
<polyline points="476.6,594.4 474.4,585.4 477.7,581" fill="none" stroke="#6b6b55" stroke-width="0.45"/>
<polyline points="397.3,535.2 405.1,538.5 411.8,536.3 419.6,532.9 430.8,531.8" fill="none" stroke="#6b6b55" stroke-width="0.45"/>
<polyline points="411.8,513.9 418.5,516.2 424.1,512.8 429.7,516.2 433,527.3" fill="none" stroke="#6b6b55" stroke-width="0.45"/>
<polyline points="418.5,516.2 420.7,525.1 417.4,530.7" fill="none" stroke="#6b6b55" stroke-width="0.45"/>
<polyline points="429.7,516.2 436.4,513.9 442,521.8" fill="none" stroke="#6b6b55" stroke-width="0.45"/>
<polyline points="385,531.8 390.6,532.9 395.1,529.6" fill="none" stroke="#6b6b55" stroke-width="0.45"/>
<polyline points="391.7,540.7 393.9,536.3 397.3,535.2" fill="none" stroke="#6b6b55" stroke-width="0.45"/>
<polyline points="391.3,517.3 387.2,520.6 385,518.4" fill="none" stroke="#6b6b55" stroke-width="0.45"/>
<polyline points="399.5,509.5 400.6,505" fill="none" stroke="#6b6b55" stroke-width="0.45"/>
<polyline points="408.5,509 409.6,505" fill="none" stroke="#6b6b55" stroke-width="0.45"/>
<polyline points="424.1,512.8 425.2,507.2 429.7,505" fill="none" stroke="#6b6b55" stroke-width="0.45"/>
<polyline points="574,414.2 581.5,411.8 589,410.5 592.8,413 591.5,404.2 595.2,399.2 599,398 596.5,390.5 592.8,383 599,380.5 602.8,375.5 596.5,371.8 589,368 582.8,363 580.2,358" fill="none" stroke="#909090" stroke-width="0.5" stroke-dasharray="2.2,0.8,0.6,0.8"/>
<polyline points="599,398 606.5,393 616.5,389.2 624,395.5 632.8,401.8 640.2,409.2 649,408 657.8,404.2 666.5,406.8 676.5,405 685.2,406 687.8,414.2 691.5,423 691.5,431.8 684,435.5 681.5,444.2 689,443" fill="none" stroke="#909090" stroke-width="0.5" stroke-dasharray="2.2,0.8,0.6,0.8"/>
<polyline points="814.2,301.6 802.9,312.9 796.5,324.2 780.4,320.9 767.5,324.2 757.8,330.6 754.6,341.9 749.8,354.8 751.4,364.5 741.7,364.5 744.9,380.6 749.8,391.8 761,396.7 773.9,399.9 780.4,406.3 783.6,412.8 777.2,422.5 775.5,435.4" fill="none" stroke="#909090" stroke-width="0.5" stroke-dasharray="2.2,0.8,0.6,0.8"/>
<polyline points="721.5,488 734,485.5 749,482.5 764,480.5 774,477.5 784,480.5 794,481.8 802.8,480.5 809,478 811,471.8" fill="none" stroke="#909090" stroke-width="0.5" stroke-dasharray="2.2,0.8,0.6,0.8"/>
<polyline points="745.2,508 754,505.5 764,506.8 774,501.8 781.5,500.5 789,503 794,508 799,510.5 809,505.5 817.8,503" fill="none" stroke="#909090" stroke-width="0.5" stroke-dasharray="2.2,0.8,0.6,0.8"/>
<polyline points="769,508 774,518 784,523 794,518 804,513 814,508" fill="none" stroke="#909090" stroke-width="0.5" stroke-dasharray="2.2,0.8,0.6,0.8"/>
<polyline points="784,523 786.5,533 781.5,537" fill="none" stroke="#909090" stroke-width="0.5" stroke-dasharray="2.2,0.8,0.6,0.8"/>
<polyline points="574,460.5 584,461.8 592.8,464.2 597.8,470.5 601.5,478 606.5,481.8 614,481" fill="none" stroke="#909090" stroke-width="0.5" stroke-dasharray="2.2,0.8,0.6,0.8"/>
<polyline points="597.8,484.2 596.5,493 599,500.5 604,503" fill="none" stroke="#909090" stroke-width="0.5" stroke-dasharray="2.2,0.8,0.6,0.8"/>
<polyline points="712.8,612 717.8,602 724,597 734,589.5 744,585.8 754,580.8 764,574.5 771.5,569.5 776.5,564.5 786.5,559.5 796.5,557 804,553.2" fill="none" stroke="#909090" stroke-width="0.5" stroke-dasharray="2.2,0.8,0.6,0.8"/>
<polyline points="789,537 794,547 801.5,554.5 809,560.8 817.8,565.8" fill="none" stroke="#909090" stroke-width="0.5" stroke-dasharray="2.2,0.8,0.6,0.8"/>
<polyline points="771.5,569.5 769,582 774,592 776.5,602 774,612 766.5,624.5 756.5,637 749,647 739,657 734,659.5 726.5,658.2" fill="none" stroke="#909090" stroke-width="0.5" stroke-dasharray="2.2,0.8,0.6,0.8"/>
<polyline points="756.5,637 766.5,649.5 781.5,647 799,649.5 817.8,653.2" fill="none" stroke="#909090" stroke-width="0.5" stroke-dasharray="2.2,0.8,0.6,0.8"/>
<polyline points="766.5,649.5 744,669.5 759,679.5 754,689.5 746.5,694.5 741.5,707.5" fill="none" stroke="#909090" stroke-width="0.5" stroke-dasharray="2.2,0.8,0.6,0.8"/>
<polyline points="717.8,628.2 724,630.8 726.5,642 722.8,652 724,667 725.2,687 726,707.5" fill="none" stroke="#909090" stroke-width="0.5" stroke-dasharray="2.2,0.8,0.6,0.8"/>
<polyline points="712.8,683.2 726,704.5" fill="none" stroke="#909090" stroke-width="0.5" stroke-dasharray="2.2,0.8,0.6,0.8"/>
<polyline points="718.5,637 724,632" fill="none" stroke="#909090" stroke-width="0.5" stroke-dasharray="2.2,0.8,0.6,0.8"/>
<polyline points="558.1,349.4 563.1,350.1 566.9,352.6 570.6,348.8 575.7,349.4 579.4,353.8 580.7,361.4 585.7,367 590.8,370.2 598.1,373.3 603.3,371.4" fill="none" stroke="#909090" stroke-width="0.5" stroke-dasharray="2.2,0.8,0.6,0.8"/>
<polyline points="530.4,423 535.4,418 543,414.2 550.5,414.8 558.1,414.2 565.6,415.5 573.1,414.2 580.7,413 588.2,411.7 593.3,413 590.8,407.9 592,402.9 595.8,399.1 598.1,395.3 595.8,390.3 592,385.3 593.9,382.8 598.3,382.1" fill="none" stroke="#909090" stroke-width="0.5" stroke-dasharray="2.2,0.8,0.6,0.8"/>
<polyline points="557.4,349.9 561.8,348.6 565.5,352.4 568.1,349.9 573.1,348.2 577.5,351.8 579.4,356.8 580.6,360.1 584.4,365.6 590.7,369.4" fill="none" stroke="#909090" stroke-width="0.5" stroke-dasharray="2.2,0.8,0.6,0.8"/>
<polyline points="500,552 507.5,549.5 515,553.2 520,549.5 527.5,552 535,548.2" fill="none" stroke="#909090" stroke-width="0.5" stroke-dasharray="2.2,0.8,0.6,0.8"/>
<polyline points="515,553.2 517.5,562 522.5,567 530,564.5 536.2,567 542.5,562" fill="none" stroke="#909090" stroke-width="0.5" stroke-dasharray="2.2,0.8,0.6,0.8"/>
<polyline points="510,570.8 517.5,568.2 522.5,567 525,574.5 530,583.2" fill="none" stroke="#909090" stroke-width="0.5" stroke-dasharray="2.2,0.8,0.6,0.8"/>
<polyline points="525,574.5 535,572 542.5,569.5 550,570.8" fill="none" stroke="#909090" stroke-width="0.5" stroke-dasharray="2.2,0.8,0.6,0.8"/>
<polyline points="587.5,572 590,564.5 597.5,560.8 602.5,555.8" fill="none" stroke="#909090" stroke-width="0.5" stroke-dasharray="2.2,0.8,0.6,0.8"/>
</g>
</g>
<text x="22.3" y="255.6" font-size="11.6" font-family="Liberation Sans, sans-serif" font-weight="bold" fill="#000" textLength="201" lengthAdjust="spacingAndGlyphs">14-day COVID-19 case notification</text>
<text x="22.3" y="270.2" font-size="11.6" font-family="Liberation Sans, sans-serif" font-weight="bold" fill="#000" textLength="181" lengthAdjust="spacingAndGlyphs">rate per 100 000 weeks 24 - 25</text>
<rect x="22" y="280.3" width="27.2" height="13.2" fill="#7bbac4" stroke="#777" stroke-width="0.5"/>
<text x="54.2" y="290.6" font-size="9.6" font-family="Liberation Sans, sans-serif" fill="#000" textLength="76.6" lengthAdjust="spacingAndGlyphs">No cases reported</text>
<rect x="22" y="298.6" width="27.2" height="13.2" fill="#ffff80" stroke="#777" stroke-width="0.5"/>
<text x="54.2" y="308.90000000000003" font-size="9.6" font-family="Liberation Sans, sans-serif" fill="#000" textLength="21" lengthAdjust="spacingAndGlyphs">&lt; 20</text>
<rect x="22" y="316.9" width="27.2" height="13.2" fill="#f5bd46" stroke="#777" stroke-width="0.5"/>
<text x="54.2" y="327.2" font-size="9.6" font-family="Liberation Sans, sans-serif" fill="#000" textLength="47.5" lengthAdjust="spacingAndGlyphs">20.0 - 59.9</text>
<rect x="22" y="335.2" width="27.2" height="13.2" fill="#c56d1c" stroke="#777" stroke-width="0.5"/>
<text x="54.2" y="345.5" font-size="9.6" font-family="Liberation Sans, sans-serif" fill="#000" textLength="52.5" lengthAdjust="spacingAndGlyphs">60.0 - 119.9</text>
<rect x="22" y="353.5" width="27.2" height="13.2" fill="#6b0504" stroke="#777" stroke-width="0.5"/>
<text x="54.2" y="363.8" font-size="9.6" font-family="Liberation Sans, sans-serif" fill="#000" textLength="34.5" lengthAdjust="spacingAndGlyphs">≥ 120.0</text>
<rect x="22" y="371.8" width="27.2" height="13.2" fill="url(#hatch2)" stroke="#777" stroke-width="0.5"/>
<text x="54.2" y="382.1" font-size="9.6" font-family="Liberation Sans, sans-serif" fill="#000" textLength="72.5" lengthAdjust="spacingAndGlyphs">No data reported</text>
<text x="23.3" y="422.8" font-size="10.4" font-family="Liberation Sans, sans-serif" fill="#000" textLength="95.5" lengthAdjust="spacingAndGlyphs">Regions not visible</text>
<text x="23.3" y="437.6" font-size="10.4" font-family="Liberation Sans, sans-serif" fill="#000" textLength="119.2" lengthAdjust="spacingAndGlyphs">in the main map extent</text>
<rect x="23.3" y="453.3" width="28.2" height="12.5" fill="#ffff80" stroke="#777" stroke-width="0.5"/>
<text x="57" y="463.1" font-size="8.8" font-family="Liberation Sans, sans-serif" fill="#222" textLength="28.5" lengthAdjust="spacingAndGlyphs">Azores</text>
<rect x="23.3" y="473.4" width="28.2" height="12.5" fill="#ffff80" stroke="#777" stroke-width="0.5"/>
<text x="56" y="483.2" font-size="8.8" font-family="Liberation Sans, sans-serif" fill="#222" textLength="62" lengthAdjust="spacingAndGlyphs">Canary Islands</text>
<rect x="23.3" y="494.5" width="28.2" height="12.5" fill="#ffff80" stroke="#777" stroke-width="0.5"/>
<text x="57.4" y="504.3" font-size="8.8" font-family="Liberation Sans, sans-serif" fill="#222" textLength="45" lengthAdjust="spacingAndGlyphs">Greenland</text>
<rect x="23.3" y="519.2" width="28.2" height="12.5" fill="#7bbac4" stroke="#777" stroke-width="0.5"/>
<text x="57.4" y="529.0" font-size="8.8" font-family="Liberation Sans, sans-serif" fill="#222" textLength="34.5" lengthAdjust="spacingAndGlyphs">Madeira</text>
<text x="23.3" y="546.5" font-size="10.4" font-family="Liberation Sans, sans-serif" fill="#000" textLength="103.5" lengthAdjust="spacingAndGlyphs">Countries not visible</text>
<text x="23.3" y="560.4" font-size="10.4" font-family="Liberation Sans, sans-serif" fill="#000" textLength="119.2" lengthAdjust="spacingAndGlyphs">in the main map extent</text>
<rect x="23.3" y="576.5" width="28.2" height="13" fill="#ffff80" stroke="#777" stroke-width="0.5"/>
<text x="57.4" y="586.1" font-size="8.8" font-family="Liberation Sans, sans-serif" fill="#222" textLength="22.4" lengthAdjust="spacingAndGlyphs">Malta</text>
<rect x="23.3" y="599.3" width="28.2" height="13" fill="#7bbac4" stroke="#777" stroke-width="0.5"/>
<text x="57" y="608.9" font-size="8.8" font-family="Liberation Sans, sans-serif" fill="#222" textLength="56" lengthAdjust="spacingAndGlyphs">Liechtenstein</text>
<text x="9.9" y="704.3" font-size="7.2" font-family="Liberation Sans, sans-serif" fill="#000" textLength="130" lengthAdjust="spacingAndGlyphs">ECDC. Map produced on: 24 Jun 2020</text>
<defs><pattern id="hatch2" width="4" height="4" patternUnits="userSpaceOnUse" patternTransform="rotate(35)"><rect width="4" height="4" fill="#b9b9b9"/><rect width="1.2" height="4" fill="#6e6e6e"/></pattern></defs>
<polygon points="71.7,650.5 74,649.6 77,652 78.4,654.5 76,655 73,653" fill="#7bbac4" stroke="#6b6b55" stroke-width="0.3"/>
<circle cx="83" cy="650.6" r="0.5" fill="#7bbac4"/>
<path d="M7.2,539.6 L9.4,540.8 L7.4,542" fill="none" stroke="#d9b24a" stroke-width="0.8"/>
<g id="logo">
<clipPath id="globeclip"><path d="M24.5,166 C24,150 34,138.5 47,138.5 C60,138.5 70,148 70.5,163 C56,170 40,172 27.5,171 Z"/></clipPath>
<g clip-path="url(#globeclip)">
<path d="M33,146 L37,143 L42,144 L46,141.5 L52,142.5 L55,141 L60,145 L63,144 L66,150 L69,153 L67,158 L70,161 L66,166 L62,165 L58,169 L53,168 L49,171 L44,169 L40,171 L36,168 L32,169 L29,164 L27,158 L30,153 L29,149 Z" fill="#a9cd6c"/><path d="M30,171 L35,170 L37,173 L33,175 Z M52,171 L57,170 L58,172 L54,173 Z" fill="#b9d784"/>
<g fill="none" stroke="#1f3a6b" stroke-width="1.15">
<path d="M26,148 C38,143 56,142 68,146"/>
<path d="M23.5,160 C38,153 58,152 71,156"/>
<path d="M25,171 C40,169 58,167 71,163"/>
<path d="M34,140 C30,150 30,162 34,176"/>
<path d="M43,137 C42,150 43,162 47,176"/>
<path d="M52,137 C56,148 58,160 58,172"/>
<path d="M58,139 C64,148 68,158 69,168"/>
</g></g>
<path d="M24.5,166 C24,150 34,138.5 47,138.5 C60,138.5 70,148 70.5,163" fill="none" stroke="#1f3a6b" stroke-width="0.9"/>
<path d="M27.5,171 C26,168 25,166 24.5,163" fill="none" stroke="#1f3a6b" stroke-width="0.9"/>
<path d="M27,170 C29,174 31,177 33,178.5" fill="none" stroke="#1f3a6b" stroke-width="0.9"/>
<g font-family="Liberation Serif, serif" font-size="28.5" stroke-width="0.45">
<text x="37.4" y="188.6" fill="#1f3a6b" stroke="#1f3a6b">e</text>
<text x="51.6" y="188.6" fill="#5aa91f" stroke="#5aa91f">c</text>
<text x="85.6" y="188.6" fill="#1f3a6b" stroke="#1f3a6b">c</text></g>
<ellipse cx="72" cy="182.1" rx="6.4" ry="6.1" fill="none" stroke="#5aa91f" stroke-width="3"/>
<path d="M78.9,183 C79.2,176 77.6,168 79.6,164.5 C81,161.6 84.2,160.8 85,162.4" fill="none" stroke="#5aa91f" stroke-width="2.3" stroke-linecap="round"/>
<circle cx="84.6" cy="162.3" r="1.5" fill="#5aa91f"/>
<rect x="38.7" y="194.1" width="14.2" height="10.1" fill="#1f3f94"/>
<circle cx="45.8" cy="199.1" r="2.7" fill="none" stroke="#e8d64a" stroke-width="0.7" stroke-dasharray="0.7,0.72"/>
<g font-family="Liberation Sans, sans-serif" font-weight="bold" font-size="3.3" fill="#1f3a6b">
<text x="56.4" y="197" textLength="41.5" lengthAdjust="spacingAndGlyphs">EUROPEAN CENTRE FOR</text>
<text x="56.4" y="200.6" textLength="35.5" lengthAdjust="spacingAndGlyphs">DISEASE PREVENTION</text>
<text x="56.4" y="204.2" textLength="24" lengthAdjust="spacingAndGlyphs">AND CONTROL</text>
</g></g>
<!--/MAP-->
</svg>
</body></html>
